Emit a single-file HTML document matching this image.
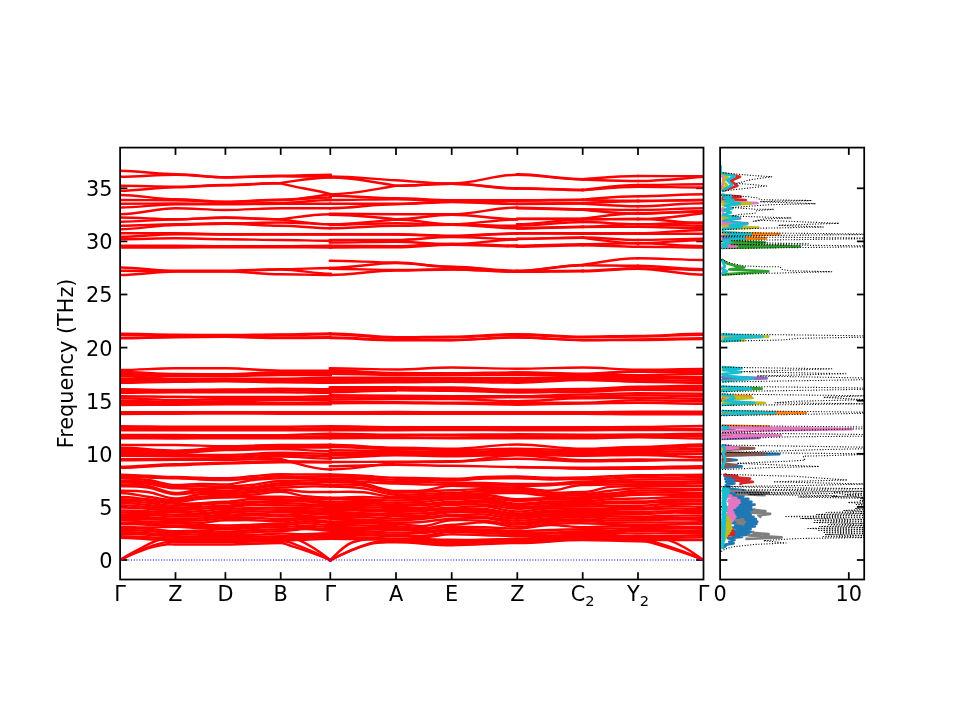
<!DOCTYPE html>
<html><head><meta charset="utf-8"><title>Phonon band structure and DOS</title>
<style>html,body{margin:0;padding:0;background:#fff}svg{display:block}</style></head>
<body>
<svg width="960" height="720" viewBox="0 0 960 720">
<rect width="960" height="720" fill="#fff"/>
<defs><clipPath id="c1"><rect x="120.1" y="147.6" width="583.4" height="431.9"/></clipPath><clipPath id="c2"><rect x="720.1" y="147.6" width="144.1" height="431.9"/></clipPath></defs>
<g stroke="#000" stroke-width="1.75" stroke-linecap="butt">
<line x1="175.5" x2="175.5" y1="579.5" y2="572.2"/>
<line x1="175.5" x2="175.5" y1="147.6" y2="154.9"/>
<line x1="225.4" x2="225.4" y1="579.5" y2="572.2"/>
<line x1="225.4" x2="225.4" y1="147.6" y2="154.9"/>
<line x1="280.7" x2="280.7" y1="579.5" y2="572.2"/>
<line x1="280.7" x2="280.7" y1="147.6" y2="154.9"/>
<line x1="330.3" x2="330.3" y1="579.5" y2="572.2"/>
<line x1="330.3" x2="330.3" y1="147.6" y2="154.9"/>
<line x1="396" x2="396" y1="579.5" y2="572.2"/>
<line x1="396" x2="396" y1="147.6" y2="154.9"/>
<line x1="451.7" x2="451.7" y1="579.5" y2="572.2"/>
<line x1="451.7" x2="451.7" y1="147.6" y2="154.9"/>
<line x1="517.3" x2="517.3" y1="579.5" y2="572.2"/>
<line x1="517.3" x2="517.3" y1="147.6" y2="154.9"/>
<line x1="582.7" x2="582.7" y1="579.5" y2="572.2"/>
<line x1="582.7" x2="582.7" y1="147.6" y2="154.9"/>
<line x1="638" x2="638" y1="579.5" y2="572.2"/>
<line x1="638" x2="638" y1="147.6" y2="154.9"/>
<line x1="120.1" x2="127.4" y1="560" y2="560"/>
<line x1="703.5" x2="696.2" y1="560" y2="560"/>
<line x1="720.1" x2="727.4" y1="560" y2="560"/>
<line x1="864.2" x2="856.9" y1="560" y2="560"/>
<line x1="120.1" x2="127.4" y1="506.9" y2="506.9"/>
<line x1="703.5" x2="696.2" y1="506.9" y2="506.9"/>
<line x1="720.1" x2="727.4" y1="506.9" y2="506.9"/>
<line x1="864.2" x2="856.9" y1="506.9" y2="506.9"/>
<line x1="120.1" x2="127.4" y1="453.8" y2="453.8"/>
<line x1="703.5" x2="696.2" y1="453.8" y2="453.8"/>
<line x1="720.1" x2="727.4" y1="453.8" y2="453.8"/>
<line x1="864.2" x2="856.9" y1="453.8" y2="453.8"/>
<line x1="120.1" x2="127.4" y1="400.7" y2="400.7"/>
<line x1="703.5" x2="696.2" y1="400.7" y2="400.7"/>
<line x1="720.1" x2="727.4" y1="400.7" y2="400.7"/>
<line x1="864.2" x2="856.9" y1="400.7" y2="400.7"/>
<line x1="120.1" x2="127.4" y1="347.6" y2="347.6"/>
<line x1="703.5" x2="696.2" y1="347.6" y2="347.6"/>
<line x1="720.1" x2="727.4" y1="347.6" y2="347.6"/>
<line x1="864.2" x2="856.9" y1="347.6" y2="347.6"/>
<line x1="120.1" x2="127.4" y1="294.5" y2="294.5"/>
<line x1="703.5" x2="696.2" y1="294.5" y2="294.5"/>
<line x1="720.1" x2="727.4" y1="294.5" y2="294.5"/>
<line x1="864.2" x2="856.9" y1="294.5" y2="294.5"/>
<line x1="120.1" x2="127.4" y1="241.4" y2="241.4"/>
<line x1="703.5" x2="696.2" y1="241.4" y2="241.4"/>
<line x1="720.1" x2="727.4" y1="241.4" y2="241.4"/>
<line x1="864.2" x2="856.9" y1="241.4" y2="241.4"/>
<line x1="120.1" x2="127.4" y1="188.3" y2="188.3"/>
<line x1="703.5" x2="696.2" y1="188.3" y2="188.3"/>
<line x1="720.1" x2="727.4" y1="188.3" y2="188.3"/>
<line x1="864.2" x2="856.9" y1="188.3" y2="188.3"/>
<line x1="848.8" x2="848.8" y1="579.5" y2="572.2"/>
<line x1="848.8" x2="848.8" y1="147.6" y2="154.9"/>
</g>
<g id="bands" clip-path="url(#c1)" fill="none" stroke="#ff0000" stroke-width="2.4" stroke-linecap="round">
<path d="M120.1 170.8C140.0 170.8 155.6 174.2 175.5 174.2C193.5 174.2 207.4 177.2 225.4 177.2C245.3 177.2 260.8 175.8 280.7 175.8C298.8 175.8 312.8 174.7 330.9 174.7"/>
<path d="M329.7 176.5C353.6 176.5 372.1 179.0 396.0 180.3C416.1 181.5 431.6 183.5 451.7 183.5C475.3 183.5 493.7 174.7 517.3 174.7"/>
<path d="M120.1 176.7C140.0 176.7 155.6 174.7 175.5 174.7C193.5 174.7 207.4 177.5 225.4 177.5C245.3 177.5 260.8 176.2 280.7 176.2C298.8 176.2 312.8 176.7 330.9 176.7"/>
<path d="M329.7 177.5C353.6 177.5 372.1 182.0 396.0 185.7C416.1 185.7 431.6 183.8 451.7 183.8C475.3 183.8 493.7 188.3 517.3 188.3"/>
<path d="M120.1 185.8C140.0 185.8 155.6 186.7 175.5 186.7C193.5 186.7 207.4 185.0 225.4 185.0C245.3 185.0 260.8 183.0 280.7 183.0C298.8 180.5 312.8 177.5 330.9 177.5"/>
<path d="M329.7 194.2C353.6 194.2 372.1 189.6 396.0 185.8C416.1 185.8 431.6 183.8 451.7 183.8C475.3 183.8 493.7 188.7 517.3 188.7"/>
<path d="M120.1 190.8C140.0 190.8 155.6 187.2 175.5 187.2C193.5 187.2 207.4 185.3 225.4 185.3C245.3 185.3 260.8 183.3 280.7 183.3C298.8 188.2 312.8 189.3 330.9 194.2"/>
<path d="M329.7 195.8C353.6 195.8 372.1 198.3 396.0 198.3C416.1 198.3 431.6 200.3 451.7 200.3C475.3 200.3 493.7 200.3 517.3 200.3"/>
<path d="M120.1 195.0C140.0 195.0 155.6 199.3 175.5 199.3C193.5 199.3 207.4 201.7 225.4 201.7C245.3 201.7 260.8 199.7 280.7 199.7C298.8 199.7 312.8 196.6 330.9 194.2"/>
<path d="M329.7 200.0C353.6 200.0 372.1 199.2 396.0 199.2C416.1 199.2 431.6 201.3 451.7 201.3C475.3 201.3 493.7 200.7 517.3 200.7"/>
<path d="M120.1 200.0C140.0 200.0 155.6 200.2 175.5 200.2C193.5 200.2 207.4 202.0 225.4 202.0C245.3 202.0 260.8 200.0 280.7 200.0C298.8 200.0 312.8 197.5 330.9 197.5"/>
<path d="M329.7 203.7C353.6 203.7 372.1 203.7 396.0 203.7C416.1 203.7 431.6 201.7 451.7 201.7C475.3 201.7 493.7 203.7 517.3 203.7"/>
<path d="M120.1 203.7C140.0 203.7 155.6 203.5 175.5 203.5C193.5 203.5 207.4 203.7 225.4 203.7C245.3 203.7 260.8 203.0 280.7 203.0C298.8 203.0 312.8 200.0 330.9 200.0"/>
<path d="M329.7 208.3C353.6 208.3 372.1 204.3 396.0 204.3C416.1 204.3 431.6 202.0 451.7 202.0C475.3 202.0 493.7 204.0 517.3 204.0"/>
<path d="M120.1 207.5C140.0 207.5 155.6 204.3 175.5 204.3C193.5 204.3 207.4 204.2 225.4 204.2C245.3 204.2 260.8 203.7 280.7 203.7C298.8 203.7 312.8 203.7 330.9 203.7"/>
<path d="M329.7 213.7C353.6 213.7 372.1 214.2 396.0 214.2C416.1 214.2 431.6 214.2 451.7 214.2C475.3 214.2 493.7 207.5 517.3 207.5"/>
<path d="M120.1 214.2C140.0 214.2 155.6 208.3 175.5 208.3C193.5 208.3 207.4 210.0 225.4 210.0C245.3 210.0 260.8 208.3 280.7 208.3C298.8 208.3 312.8 208.3 330.9 208.3"/>
<path d="M329.7 214.7C353.6 214.7 372.1 217.1 396.0 219.2C416.1 219.2 431.6 214.7 451.7 214.7C475.3 214.7 493.7 219.2 517.3 219.2"/>
<path d="M120.1 217.5C140.0 217.5 155.6 219.2 175.5 219.2C193.5 219.2 207.4 217.5 225.4 217.5C245.3 217.5 260.8 219.2 280.7 219.2C298.8 216.9 312.8 214.2 330.9 214.2"/>
<path d="M329.7 224.2C353.6 224.2 372.1 221.6 396.0 219.5C416.1 219.5 431.6 224.2 451.7 224.2C475.3 224.2 493.7 219.5 517.3 219.5"/>
<path d="M120.1 221.7C140.0 221.7 155.6 219.5 175.5 219.5C193.5 219.5 207.4 217.8 225.4 217.8C245.3 217.8 260.8 219.5 280.7 219.5C298.8 221.6 312.8 224.2 330.9 224.2"/>
<path d="M329.7 225.0C353.6 225.0 372.1 223.3 396.0 223.3C416.1 223.3 431.6 224.5 451.7 224.5C475.3 224.5 493.7 225.8 517.3 225.8"/>
<path d="M120.1 225.8C140.0 225.8 155.6 224.2 175.5 224.2C193.5 224.2 207.4 223.3 225.4 223.3C245.3 223.3 260.8 222.5 280.7 222.5C298.8 222.5 312.8 224.2 330.9 224.2"/>
<path d="M329.7 228.3C353.6 228.3 372.1 225.8 396.0 225.8C416.1 225.8 431.6 224.8 451.7 224.8C475.3 224.8 493.7 228.3 517.3 228.3"/>
<path d="M120.1 229.2C140.0 229.2 155.6 225.0 175.5 225.0C193.5 225.0 207.4 223.7 225.4 223.7C245.3 223.7 260.8 225.8 280.7 225.8C298.8 225.8 312.8 228.3 330.9 228.3"/>
<path d="M329.7 234.2C353.6 234.2 372.1 234.2 396.0 234.2C416.1 234.2 431.6 235.8 451.7 235.8C475.3 235.8 493.7 233.3 517.3 233.3"/>
<path d="M120.1 233.3C140.0 233.3 155.6 233.3 175.5 233.3C193.5 233.3 207.4 234.2 225.4 234.2C245.3 234.2 260.8 234.2 280.7 234.2C298.8 234.2 312.8 234.2 330.9 234.2"/>
<path d="M329.7 234.5C353.6 234.5 372.1 234.5 396.0 234.5C416.1 234.5 431.6 236.2 451.7 236.2C475.3 236.2 493.7 233.7 517.3 233.7"/>
<path d="M120.1 236.7C140.0 236.7 155.6 234.2 175.5 234.2C193.5 234.2 207.4 234.5 225.4 234.5C245.3 234.5 260.8 234.5 280.7 234.5C298.8 234.5 312.8 234.5 330.9 234.5"/>
<path d="M329.7 240.0C353.6 240.0 372.1 240.0 396.0 240.0C416.1 240.0 431.6 237.0 451.7 237.0C475.3 237.0 493.7 239.2 517.3 239.2"/>
<path d="M120.1 239.2C140.0 239.2 155.6 238.3 175.5 238.3C193.5 238.3 207.4 239.2 225.4 239.2C245.3 239.2 260.8 240.0 280.7 240.0C298.8 240.0 312.8 240.8 330.9 240.8"/>
<path d="M329.7 242.5C353.6 242.5 372.1 241.7 396.0 241.7C416.1 241.7 431.6 244.2 451.7 244.2C475.3 244.2 493.7 239.5 517.3 239.5"/>
<path d="M120.1 245.8C140.0 245.8 155.6 245.8 175.5 245.8C193.5 245.8 207.4 246.3 225.4 246.3C245.3 246.3 260.8 246.3 280.7 246.3C298.8 246.3 312.8 245.8 330.9 245.8"/>
<path d="M329.7 245.8C353.6 245.8 372.1 246.3 396.0 246.3C416.1 246.3 431.6 243.8 451.7 243.8C475.3 243.8 493.7 245.5 517.3 245.5"/>
<path d="M120.1 247.5C140.0 247.5 155.6 247.5 175.5 247.5C193.5 247.5 207.4 247.3 225.4 247.3C245.3 247.3 260.8 247.3 280.7 247.3C298.8 247.3 312.8 247.5 330.9 247.5"/>
<path d="M329.7 247.5C353.6 247.5 372.1 247.3 396.0 247.3C416.1 247.3 431.6 244.8 451.7 244.8C475.3 244.8 493.7 246.5 517.3 246.5"/>
<path d="M120.1 267.5C140.0 267.5 155.6 270.8 175.5 270.8C193.5 270.8 207.4 270.8 225.4 270.8C245.3 270.8 260.8 269.2 280.7 269.2C298.8 269.2 312.8 268.0 330.9 268.0"/>
<path d="M329.7 260.8C353.6 260.8 372.1 262.5 396.0 262.5C416.1 262.5 431.6 266.7 451.7 266.7C475.3 266.7 493.7 270.8 517.3 270.8"/>
<path d="M120.1 270.8C140.0 270.8 155.6 271.2 175.5 271.2C193.5 271.2 207.4 271.2 225.4 271.2C245.3 271.2 260.8 269.5 280.7 269.5C298.8 269.5 312.8 273.7 330.9 273.7"/>
<path d="M329.7 268.0C353.6 268.0 372.1 263.0 396.0 263.0C416.1 263.0 431.6 267.0 451.7 267.0C475.3 267.0 493.7 271.2 517.3 271.2"/>
<path d="M120.1 275.0C140.0 275.0 155.6 271.5 175.5 271.5C193.5 271.5 207.4 271.5 225.4 271.5C245.3 271.5 260.8 274.2 280.7 274.2C298.8 274.2 312.8 275.0 330.9 275.0"/>
<path d="M329.7 268.7C353.6 268.7 372.1 270.0 396.0 270.0C416.1 270.0 431.6 269.2 451.7 269.2C475.3 269.2 493.7 271.5 517.3 271.5"/>
<path d="M329.7 275.0C353.6 275.0 372.1 270.5 396.0 270.5C416.1 270.5 431.6 269.5 451.7 269.5C475.3 269.5 493.7 271.8 517.3 271.8"/>
<path d="M120.1 333.8C140.0 333.8 155.6 334.7 175.5 334.7C193.5 334.7 207.4 335.0 225.4 335.0C245.3 335.0 260.8 334.4 280.7 334.4C298.8 334.4 312.8 333.4 330.9 333.4"/>
<path d="M329.7 333.4C353.6 333.4 372.1 337.2 396.0 337.2C416.1 337.2 431.6 336.6 451.7 336.6C475.3 336.6 493.7 334.1 517.3 334.1C540.8 334.1 559.2 336.6 582.7 336.6C602.6 336.6 618.1 335.9 638.0 335.9C661.6 335.9 679.9 333.8 703.5 333.8"/>
<path d="M120.1 334.7C140.0 334.7 155.6 335.3 175.5 335.3C193.5 335.3 207.4 335.6 225.4 335.6C245.3 335.6 260.8 335.0 280.7 335.0C298.8 335.0 312.8 334.4 330.9 334.4"/>
<path d="M329.7 334.4C353.6 334.4 372.1 337.8 396.0 337.8C416.1 337.8 431.6 337.2 451.7 337.2C475.3 337.2 493.7 334.7 517.3 334.7C540.8 334.7 559.2 337.2 582.7 337.2C602.6 337.2 618.1 336.6 638.0 336.6C661.6 336.6 679.9 334.7 703.5 334.7"/>
<path d="M120.1 337.8C140.0 337.8 155.6 336.9 175.5 336.9C193.5 336.9 207.4 336.6 225.4 336.6C245.3 336.6 260.8 337.5 280.7 337.5C298.8 337.5 312.8 337.2 330.9 337.2"/>
<path d="M329.7 337.5C353.6 337.5 372.1 339.7 396.0 339.7C416.1 339.7 431.6 340.0 451.7 340.0C475.3 340.0 493.7 337.2 517.3 337.2C540.8 337.2 559.2 340.0 582.7 340.0C602.6 340.0 618.1 339.4 638.0 339.4C661.6 339.4 679.9 338.1 703.5 338.1"/>
<path d="M120.1 338.4C140.0 338.4 155.6 337.2 175.5 337.2C193.5 337.2 207.4 336.9 225.4 336.9C245.3 336.9 260.8 338.1 280.7 338.1C298.8 338.1 312.8 337.8 330.9 337.8"/>
<path d="M329.7 338.1C353.6 338.1 372.1 340.3 396.0 340.3C416.1 340.3 431.6 340.3 451.7 340.3C475.3 340.3 493.7 337.5 517.3 337.5C540.8 337.5 559.2 340.3 582.7 340.3C602.6 340.3 618.1 340.0 638.0 340.0C661.6 340.0 679.9 339.1 703.5 339.1"/>
<path d="M120.1 370.0C140.0 370.0 155.6 368.3 175.5 368.3C193.5 368.3 207.4 368.3 225.4 368.3C245.3 368.3 260.8 370.7 280.7 370.7C298.8 370.7 312.8 370.7 330.9 370.7"/>
<path d="M329.7 368.3C353.6 368.3 372.1 369.5 396.0 369.5C416.1 369.5 431.6 367.5 451.7 367.5C475.3 367.5 493.7 368.7 517.3 368.7C540.8 368.7 559.2 367.5 582.7 367.5C602.6 367.5 618.1 369.7 638.0 369.7C661.6 369.7 679.9 369.0 703.5 369.0"/>
<path d="M120.1 372.0C140.0 372.0 155.6 374.0 175.5 374.0C193.5 374.0 207.4 374.3 225.4 374.3C245.3 374.3 260.8 372.3 280.7 372.3C298.8 372.3 312.8 372.0 330.9 372.0"/>
<path d="M329.7 370.3C353.6 370.3 372.1 373.0 396.0 373.0C416.1 373.0 431.6 373.3 451.7 373.3C475.3 373.3 493.7 372.3 517.3 372.3C540.8 372.3 559.2 373.7 582.7 373.7C602.6 373.7 618.1 371.2 638.0 371.2C661.6 371.2 679.9 370.7 703.5 370.7"/>
<path d="M120.1 374.0C140.0 374.0 155.6 375.3 175.5 375.3C193.5 375.3 207.4 375.7 225.4 375.7C245.3 375.7 260.8 374.0 280.7 374.0C298.8 374.0 312.8 373.7 330.9 373.7"/>
<path d="M329.7 372.0C353.6 372.0 372.1 374.0 396.0 374.0C416.1 374.0 431.6 374.0 451.7 374.0C475.3 374.0 493.7 373.7 517.3 373.7C540.8 373.7 559.2 374.3 582.7 374.3C602.6 374.3 618.1 371.7 638.0 371.7C661.6 371.7 679.9 372.0 703.5 372.0"/>
<path d="M120.1 376.2C140.0 376.2 155.6 378.7 175.5 378.7C193.5 378.7 207.4 378.7 225.4 378.7C245.3 378.7 260.8 378.7 280.7 378.7C298.8 378.7 312.8 377.8 330.9 377.8"/>
<path d="M329.7 373.7C353.6 373.7 372.1 375.0 396.0 375.0C416.1 375.0 431.6 374.8 451.7 374.8C475.3 374.8 493.7 375.0 517.3 375.0C540.8 375.0 559.2 375.3 582.7 375.3C602.6 375.3 618.1 375.3 638.0 375.3C661.6 375.3 679.9 373.7 703.5 373.7"/>
<path d="M120.1 378.7C140.0 378.7 155.6 379.5 175.5 379.5C193.5 379.5 207.4 379.2 225.4 379.2C245.3 379.2 260.8 380.0 280.7 380.0C298.8 380.0 312.8 379.5 330.9 379.5"/>
<path d="M329.7 377.8C353.6 377.8 372.1 377.8 396.0 377.8C416.1 377.8 431.6 377.8 451.7 377.8C475.3 377.8 493.7 378.3 517.3 378.3C540.8 378.3 559.2 376.7 582.7 376.7C602.6 376.7 618.1 376.7 638.0 376.7C661.6 376.7 679.9 377.0 703.5 377.0"/>
<path d="M120.1 380.7C140.0 380.7 155.6 380.7 175.5 380.7C193.5 380.7 207.4 380.3 225.4 380.3C245.3 380.3 260.8 381.2 280.7 381.2C298.8 381.2 312.8 381.2 330.9 381.2"/>
<path d="M329.7 379.5C353.6 379.5 372.1 379.5 396.0 379.5C416.1 379.5 431.6 379.0 451.7 379.0C475.3 379.0 493.7 380.0 517.3 380.0C540.8 380.0 559.2 377.8 582.7 377.8C602.6 377.8 618.1 377.8 638.0 377.8C661.6 377.8 679.9 378.7 703.5 378.7"/>
<path d="M120.1 382.8C140.0 382.8 155.6 381.7 175.5 381.7C193.5 381.7 207.4 381.2 225.4 381.2C245.3 381.2 260.8 382.3 280.7 382.3C298.8 382.3 312.8 382.8 330.9 382.8"/>
<path d="M329.7 381.2C353.6 381.2 372.1 380.8 396.0 380.8C416.1 380.8 431.6 380.3 451.7 380.3C475.3 380.3 493.7 381.3 517.3 381.3C540.8 381.3 559.2 379.0 582.7 379.0C602.6 379.0 618.1 380.0 638.0 380.0C661.6 380.0 679.9 380.7 703.5 380.7"/>
<path d="M120.1 375.3C140.0 375.3 155.6 376.0 175.5 376.0C193.5 376.0 207.4 376.3 225.4 376.3C245.3 376.3 260.8 375.0 280.7 375.0C298.8 375.0 312.8 375.3 330.9 375.3"/>
<path d="M329.7 382.8C353.6 382.8 372.1 382.3 396.0 382.3C416.1 382.3 431.6 381.7 451.7 381.7C475.3 381.7 493.7 382.7 517.3 382.7C540.8 382.7 559.2 380.0 582.7 380.0C602.6 380.0 618.1 381.7 638.0 381.7C661.6 381.7 679.9 382.8 703.5 382.8"/>
<path d="M120.1 389.2C140.0 389.2 155.6 390.0 175.5 390.0C193.5 390.0 207.4 389.5 225.4 389.5C245.3 389.5 260.8 388.7 280.7 388.7C298.8 388.7 312.8 389.2 330.9 389.2"/>
<path d="M329.7 387.3C353.6 387.3 372.1 387.2 396.0 387.2C416.1 387.2 431.6 387.5 451.7 387.5C475.3 387.5 493.7 389.8 517.3 389.8C540.8 389.8 559.2 389.0 582.7 389.0C602.6 389.0 618.1 386.7 638.0 386.7C661.6 386.7 679.9 385.8 703.5 385.8"/>
<path d="M120.1 390.8C140.0 390.8 155.6 391.2 175.5 391.2C193.5 391.2 207.4 390.8 225.4 390.8C245.3 390.8 260.8 390.3 280.7 390.3C298.8 390.3 312.8 391.0 330.9 391.0"/>
<path d="M329.7 388.8C353.6 388.8 372.1 388.7 396.0 388.7C416.1 388.7 431.6 389.2 451.7 389.2C475.3 389.2 493.7 391.2 517.3 391.2C540.8 391.2 559.2 390.3 582.7 390.3C602.6 390.3 618.1 388.2 638.0 388.2C661.6 388.2 679.9 387.8 703.5 387.8"/>
<path d="M120.1 392.7C140.0 392.7 155.6 392.2 175.5 392.2C193.5 392.2 207.4 392.2 225.4 392.2C245.3 392.2 260.8 392.3 280.7 392.3C298.8 392.3 312.8 392.8 330.9 392.8"/>
<path d="M329.7 390.3C353.6 390.3 372.1 390.2 396.0 390.2C416.1 390.2 431.6 390.7 451.7 390.7C475.3 390.7 493.7 392.5 517.3 392.5C540.8 392.5 559.2 391.7 582.7 391.7C602.6 391.7 618.1 389.8 638.0 389.8C661.6 389.8 679.9 390.3 703.5 390.3"/>
<path d="M120.1 396.2C140.0 396.2 155.6 396.7 175.5 396.7C193.5 396.7 207.4 397.0 225.4 397.0C245.3 397.0 260.8 397.0 280.7 397.0C298.8 397.0 312.8 396.2 330.9 396.2"/>
<path d="M329.7 395.3C353.6 395.3 372.1 395.8 396.0 395.8C416.1 395.8 431.6 396.2 451.7 396.2C475.3 396.2 493.7 396.2 517.3 396.2C540.8 396.2 559.2 394.5 582.7 394.5C602.6 394.5 618.1 393.3 638.0 393.3C661.6 393.3 679.9 393.7 703.5 393.7"/>
<path d="M120.1 398.3C140.0 398.3 155.6 400.0 175.5 400.0C193.5 400.0 207.4 399.0 225.4 399.0C245.3 399.0 260.8 398.7 280.7 398.7C298.8 398.7 312.8 398.3 330.9 398.3"/>
<path d="M329.7 397.3C353.6 397.3 372.1 397.5 396.0 397.5C416.1 397.5 431.6 397.7 451.7 397.7C475.3 397.7 493.7 397.3 517.3 397.3C540.8 397.3 559.2 396.7 582.7 396.7C602.6 396.7 618.1 395.3 638.0 395.3C661.6 395.3 679.9 396.2 703.5 396.2"/>
<path d="M120.1 400.7C140.0 400.7 155.6 401.7 175.5 401.7C193.5 401.7 207.4 401.3 225.4 401.3C245.3 401.3 260.8 400.3 280.7 400.3C298.8 400.3 312.8 400.3 330.9 400.3"/>
<path d="M329.7 399.5C353.6 399.5 372.1 399.0 396.0 399.0C416.1 399.0 431.6 399.0 451.7 399.0C475.3 399.0 493.7 401.2 517.3 401.2C540.8 401.2 559.2 398.3 582.7 398.3C602.6 398.3 618.1 397.8 638.0 397.8C661.6 397.8 679.9 398.7 703.5 398.7"/>
<path d="M120.1 402.8C140.0 402.8 155.6 403.3 175.5 403.3C193.5 403.3 207.4 403.0 225.4 403.0C245.3 403.0 260.8 403.3 280.7 403.3C298.8 403.3 312.8 402.5 330.9 402.5"/>
<path d="M329.7 401.7C353.6 401.7 372.1 402.2 396.0 402.2C416.1 402.2 431.6 402.7 451.7 402.7C475.3 402.7 493.7 402.8 517.3 402.8C540.8 402.8 559.2 402.7 582.7 402.7C602.6 402.7 618.1 400.3 638.0 400.3C661.6 400.3 679.9 401.2 703.5 401.2"/>
<path d="M120.1 405.0C140.0 405.0 155.6 404.7 175.5 404.7C193.5 404.7 207.4 404.3 225.4 404.3C245.3 404.3 260.8 404.3 280.7 404.3C298.8 404.3 312.8 404.3 330.9 404.3"/>
<path d="M329.7 403.2C353.6 403.2 372.1 403.0 396.0 403.0C416.1 403.0 431.6 403.5 451.7 403.5C475.3 403.5 493.7 404.7 517.3 404.7C540.8 404.7 559.2 403.5 582.7 403.5C602.6 403.5 618.1 402.8 638.0 402.8C661.6 402.8 679.9 403.7 703.5 403.7"/>
<path d="M120.1 412.2C140.0 412.2 155.6 412.3 175.5 412.3C193.5 412.3 207.4 412.3 225.4 412.3C245.3 412.3 260.8 412.3 280.7 412.3C298.8 412.3 312.8 412.2 330.9 412.2"/>
<path d="M329.7 412.2C353.6 412.2 372.1 412.0 396.0 412.0C416.1 412.0 431.6 412.3 451.7 412.3C475.3 412.3 493.7 412.3 517.3 412.3C540.8 412.3 559.2 412.3 582.7 412.3C602.6 412.3 618.1 411.7 638.0 411.7C661.6 411.7 679.9 411.7 703.5 411.7"/>
<path d="M120.1 414.0C140.0 414.0 155.6 413.7 175.5 413.7C193.5 413.7 207.4 413.5 225.4 413.5C245.3 413.5 260.8 413.7 280.7 413.7C298.8 413.7 312.8 413.8 330.9 413.8"/>
<path d="M329.7 413.8C353.6 413.8 372.1 413.8 396.0 413.8C416.1 413.8 431.6 413.8 451.7 413.8C475.3 413.8 493.7 413.7 517.3 413.7C540.8 413.7 559.2 413.7 582.7 413.7C602.6 413.7 618.1 414.2 638.0 414.2C661.6 414.2 679.9 414.3 703.5 414.3"/>
<path d="M120.1 426.3C140.0 426.3 155.6 426.8 175.5 426.8C193.5 426.8 207.4 426.8 225.4 426.8C245.3 426.8 260.8 426.8 280.7 426.8C298.8 426.8 312.8 426.3 330.9 426.3"/>
<path d="M329.7 426.3C353.6 426.3 372.1 427.2 396.0 427.2C416.1 427.2 431.6 427.2 451.7 427.2C475.3 427.2 493.7 427.2 517.3 427.2C540.8 427.2 559.2 427.2 582.7 427.2C602.6 427.2 618.1 427.0 638.0 427.0C661.6 427.0 679.9 426.0 703.5 426.0"/>
<path d="M120.1 428.3C140.0 428.3 155.6 428.7 175.5 428.7C193.5 428.7 207.4 428.7 225.4 428.7C245.3 428.7 260.8 429.2 280.7 429.2C298.8 429.2 312.8 428.3 330.9 428.3"/>
<path d="M329.7 428.3C353.6 428.3 372.1 428.7 396.0 428.7C416.1 428.7 431.6 428.7 451.7 428.7C475.3 428.7 493.7 428.7 517.3 428.7C540.8 428.7 559.2 428.7 582.7 428.7C602.6 428.7 618.1 428.7 638.0 428.7C661.6 428.7 679.9 429.0 703.5 429.0"/>
<path d="M120.1 430.3C140.0 430.3 155.6 430.3 175.5 430.3C193.5 430.3 207.4 430.3 225.4 430.3C245.3 430.3 260.8 430.3 280.7 430.3C298.8 430.3 312.8 430.3 330.9 430.3"/>
<path d="M329.7 430.3C353.6 430.3 372.1 430.3 396.0 430.3C416.1 430.3 431.6 430.0 451.7 430.0C475.3 430.0 493.7 430.3 517.3 430.3C540.8 430.3 559.2 430.3 582.7 430.3C602.6 430.3 618.1 430.0 638.0 430.0C661.6 430.0 679.9 430.3 703.5 430.3"/>
<path d="M120.1 435.0C140.0 435.0 155.6 435.0 175.5 435.0C193.5 435.0 207.4 435.3 225.4 435.3C245.3 435.3 260.8 435.3 280.7 435.3C298.8 435.3 312.8 433.7 330.9 433.7"/>
<path d="M329.7 433.7C353.6 433.7 372.1 434.8 396.0 434.8C416.1 434.8 431.6 434.7 451.7 434.7C475.3 434.7 493.7 434.3 517.3 434.3C540.8 434.3 559.2 434.7 582.7 434.7C602.6 434.7 618.1 434.5 638.0 434.5C661.6 434.5 679.9 433.8 703.5 433.8"/>
<path d="M120.1 436.7C140.0 436.7 155.6 437.0 175.5 437.0C193.5 437.0 207.4 437.0 225.4 437.0C245.3 437.0 260.8 437.0 280.7 437.0C298.8 437.0 312.8 436.2 330.9 436.2"/>
<path d="M329.7 436.2C353.6 436.2 372.1 435.8 396.0 435.8C416.1 435.8 431.6 435.5 451.7 435.5C475.3 435.5 493.7 436.3 517.3 436.3C540.8 436.3 559.2 436.5 582.7 436.5C602.6 436.5 618.1 435.8 638.0 435.8C661.6 435.8 679.9 436.2 703.5 436.2"/>
<path d="M120.1 438.2C140.0 438.2 155.6 438.5 175.5 438.5C193.5 438.5 207.4 438.2 225.4 438.2C245.3 438.2 260.8 438.2 280.7 438.2C298.8 438.2 312.8 438.2 330.9 438.2"/>
<path d="M329.7 438.2C353.6 438.2 372.1 438.0 396.0 438.0C416.1 438.0 431.6 438.2 451.7 438.2C475.3 438.2 493.7 438.2 517.3 438.2C540.8 438.2 559.2 438.2 582.7 438.2C602.6 438.2 618.1 437.2 638.0 437.2C661.6 437.2 679.9 438.5 703.5 438.5"/>
<path d="M120.1 445.0C140.0 445.0 155.6 445.0 175.5 445.0C193.5 445.0 207.4 446.2 225.4 446.2C245.3 446.2 260.8 445.0 280.7 445.0C298.8 445.0 312.8 444.8 330.9 444.8"/>
<path d="M329.7 444.8C353.6 444.8 372.1 447.8 396.0 447.8C416.1 447.8 431.6 448.7 451.7 448.7C475.3 448.7 493.7 444.5 517.3 444.5C540.8 444.5 559.2 448.7 582.7 448.7C602.6 448.7 618.1 447.0 638.0 447.0C661.6 447.0 679.9 444.5 703.5 444.5"/>
<path d="M120.1 447.8C140.0 447.8 155.6 450.7 175.5 450.7C193.5 450.7 207.4 447.8 225.4 447.8C245.3 447.8 260.8 446.3 280.7 446.3C298.8 446.3 312.8 446.2 330.9 446.2"/>
<path d="M329.7 447.0C353.6 447.0 372.1 449.0 396.0 449.0C416.1 449.0 431.6 450.3 451.7 450.3C475.3 450.3 493.7 448.7 517.3 448.7C540.8 448.7 559.2 450.3 582.7 450.3C602.6 450.3 618.1 448.7 638.0 448.7C661.6 448.7 679.9 446.2 703.5 446.2"/>
<path d="M120.1 449.8C140.0 449.8 155.6 452.0 175.5 452.0C193.5 452.0 207.4 449.0 225.4 449.0C245.3 449.0 260.8 447.7 280.7 447.7C298.8 447.7 312.8 447.5 330.9 447.5"/>
<path d="M329.7 450.3C353.6 450.3 372.1 451.2 396.0 451.2C416.1 451.2 431.6 452.0 451.7 452.0C475.3 452.0 493.7 450.7 517.3 450.7C540.8 450.7 559.2 452.0 582.7 452.0C602.6 452.0 618.1 450.3 638.0 450.3C661.6 450.3 679.9 448.7 703.5 448.7"/>
<path d="M120.1 451.8C140.0 451.8 155.6 453.3 175.5 453.3C193.5 453.3 207.4 450.0 225.4 450.0C245.3 450.0 260.8 449.0 280.7 449.0C298.8 449.0 312.8 451.2 330.9 451.2"/>
<path d="M329.7 452.8C353.6 452.8 372.1 452.8 396.0 452.8C416.1 452.8 431.6 453.7 451.7 453.7C475.3 453.7 493.7 452.3 517.3 452.3C540.8 452.3 559.2 453.7 582.7 453.7C602.6 453.7 618.1 452.0 638.0 452.0C661.6 452.0 679.9 451.2 703.5 451.2"/>
<path d="M120.1 453.8C140.0 453.8 155.6 454.7 175.5 454.7C193.5 454.7 207.4 455.0 225.4 455.0C245.3 455.0 260.8 452.8 280.7 452.8C298.8 452.8 312.8 453.7 330.9 453.7"/>
<path d="M329.7 455.3C353.6 455.3 372.1 454.2 396.0 454.2C416.1 454.2 431.6 455.0 451.7 455.0C475.3 455.0 493.7 453.7 517.3 453.7C540.8 453.7 559.2 455.0 582.7 455.0C602.6 455.0 618.1 453.7 638.0 453.7C661.6 453.7 679.9 453.7 703.5 453.7"/>
<path d="M120.1 455.8C140.0 455.8 155.6 456.2 175.5 456.2C193.5 456.2 207.4 456.7 225.4 456.7C245.3 456.7 260.8 454.7 280.7 454.7C298.8 454.7 312.8 456.2 330.9 456.2"/>
<path d="M329.7 457.8C353.6 457.8 372.1 455.3 396.0 455.3C416.1 455.3 431.6 456.2 451.7 456.2C475.3 456.2 493.7 454.7 517.3 454.7C540.8 454.7 559.2 455.7 582.7 455.7C602.6 455.7 618.1 455.0 638.0 455.0C661.6 455.0 679.9 457.0 703.5 457.0"/>
<path d="M120.1 460.3C140.0 460.3 155.6 459.8 175.5 459.8C193.5 459.8 207.4 459.8 225.4 459.8C245.3 459.8 260.8 459.0 280.7 459.0C298.8 463.7 312.8 469.5 330.9 469.5"/>
<path d="M329.7 469.5C353.6 469.5 372.1 465.6 396.0 462.5C416.1 462.5 431.6 461.7 451.7 461.7C475.3 461.7 493.7 455.3 517.3 455.3C540.8 455.3 559.2 460.3 582.7 460.3C602.6 460.3 618.1 459.5 638.0 459.5C661.6 459.5 679.9 460.3 703.5 460.3"/>
<path d="M120.1 466.7C140.0 466.7 155.6 464.2 175.5 464.2C193.5 464.2 207.4 462.7 225.4 462.7C245.3 462.7 260.8 461.3 280.7 461.3C298.8 461.3 312.8 461.8 330.9 461.8"/>
<path d="M329.7 462.0C353.6 462.0 372.1 461.7 396.0 461.7C416.1 461.7 431.6 461.2 451.7 461.2C475.3 461.2 493.7 458.7 517.3 458.7C540.8 458.7 559.2 461.3 582.7 461.3C602.6 461.3 618.1 460.7 638.0 460.7C661.6 460.7 679.9 459.5 703.5 459.5"/>
<path d="M120.1 467.8C140.0 467.8 155.6 465.2 175.5 465.2C193.5 465.2 207.4 463.5 225.4 463.5C245.3 463.5 260.8 462.3 280.7 462.3C298.8 462.3 312.8 462.5 330.9 462.5"/>
<path d="M120.1 459.2C140.0 459.2 155.6 459.0 175.5 459.0C193.5 459.0 207.4 458.8 225.4 458.8C245.3 458.8 260.8 456.5 280.7 456.5C298.8 456.5 312.8 458.7 330.9 458.7"/>
<path d="M329.7 466.2C353.6 466.2 372.1 464.7 396.0 464.7C416.1 464.7 431.6 465.8 451.7 465.8C475.3 465.8 493.7 467.0 517.3 467.0C540.8 467.0 559.2 468.7 582.7 468.7C602.6 468.7 618.1 468.7 638.0 468.7C661.6 468.7 679.9 468.0 703.5 468.0"/>
<path d="M517.3 467.3C540.8 467.3 559.2 467.8 582.7 467.8C602.6 467.8 618.1 467.3 638.0 467.3C661.6 467.3 679.9 466.3 703.5 466.3"/>
<path d="M329.7 392.3C353.6 392.3 372.1 390.5 396.0 390.5"/>
<path d="M120.1 474.8C130.1 474.8 137.8 475.4 147.8 475.8C157.8 476.2 165.5 477.0 175.5 477.0C184.5 477.0 191.5 477.6 200.4 477.8C209.4 478.0 216.4 478.2 225.4 478.2C235.4 478.2 243.1 476.9 253.1 476.2C263.0 475.4 270.7 474.2 280.7 474.2C289.6 474.2 296.6 474.4 305.5 474.5C314.6 474.6 321.8 474.5 330.9 474.5"/>
<path d="M329.7 474.5C341.7 474.5 351.1 475.3 363.1 475.8C375.0 476.4 384.2 477.7 396.0 477.7C406.0 477.7 413.8 478.0 423.9 478.2C433.9 478.3 441.7 478.7 451.7 478.7C463.5 478.7 472.7 477.4 484.5 477.0C496.3 476.6 505.5 476.5 517.3 476.5C529.1 476.5 538.2 477.7 550.0 477.8C561.8 478.0 570.9 477.5 582.7 477.5C592.7 477.5 600.4 476.6 610.4 476.2C620.3 475.8 628.0 475.3 638.0 475.3C649.8 475.3 659.0 475.1 670.8 475.0C682.5 474.9 691.7 474.8 703.5 474.8"/>
<path d="M120.1 476.5C130.1 476.5 137.8 477.2 147.8 477.5C157.8 477.8 165.5 478.3 175.5 478.3C184.5 478.3 191.5 479.2 200.4 479.5C209.4 479.8 216.4 480.0 225.4 480.0C235.4 480.0 243.1 478.9 253.1 478.2C263.0 477.5 270.7 476.2 280.7 476.2C289.6 476.2 296.6 476.8 305.5 476.8C314.6 476.9 321.8 476.3 330.9 476.3"/>
<path d="M329.7 476.3C341.7 476.3 351.1 477.2 363.1 477.8C375.0 478.4 384.2 479.7 396.0 479.7C406.0 479.7 413.8 479.9 423.9 480.0C433.9 480.1 441.7 480.5 451.7 480.5C463.5 480.5 472.7 478.9 484.5 478.5C496.3 478.1 505.5 478.3 517.3 478.3C529.1 478.3 538.2 479.4 550.0 479.5C561.8 479.6 570.9 478.8 582.7 478.8C592.7 478.8 600.4 478.8 610.4 478.5C620.3 478.2 628.0 477.0 638.0 477.0C649.8 477.0 659.0 477.5 670.8 477.5C682.5 477.5 691.7 477.0 703.5 477.0"/>
<path d="M120.1 478.3C130.1 478.3 137.8 478.8 147.8 480.0C157.8 481.2 165.5 485.0 175.5 485.0C184.5 485.0 191.5 484.1 200.4 484.0C209.4 483.9 216.4 484.5 225.4 484.5C235.4 484.5 243.1 481.1 253.1 480.0C263.0 478.9 270.7 478.2 280.7 478.2C289.6 478.2 296.6 478.3 305.5 478.3C314.6 478.4 321.8 478.5 330.9 478.5"/>
<path d="M329.7 478.5C341.7 478.5 351.1 478.8 363.1 479.3C375.0 479.9 384.2 481.7 396.0 481.7C406.0 481.7 413.8 481.8 423.9 482.0C433.9 482.2 441.7 482.8 451.7 482.8C463.5 482.8 472.7 482.8 484.5 483.0C496.3 483.2 505.5 484.0 517.3 484.0C529.1 484.0 538.2 484.3 550.0 483.8C561.8 483.4 570.9 481.5 582.7 481.5C592.7 481.5 600.4 481.0 610.4 480.7C620.3 480.3 628.0 479.5 638.0 479.5C649.8 479.5 659.0 479.5 670.8 479.5C682.5 479.5 691.7 479.3 703.5 479.3"/>
<path d="M120.1 480.8C130.1 480.8 137.8 480.9 147.8 482.0C157.8 483.1 165.5 486.8 175.5 486.8C184.5 486.8 191.5 486.2 200.4 486.2C209.4 486.1 216.4 486.5 225.4 486.5C235.4 486.5 243.1 485.8 253.1 484.8C263.0 483.8 270.7 481.0 280.7 481.0C289.6 481.0 296.6 480.7 305.5 480.5C314.6 480.3 321.8 480.0 330.9 480.0"/>
<path d="M329.7 480.0C341.7 480.0 351.1 481.2 363.1 481.8C375.0 482.5 384.2 483.5 396.0 483.5C406.0 483.5 413.8 484.3 423.9 484.5C433.9 484.7 441.7 484.5 451.7 484.5C463.5 484.5 472.7 484.6 484.5 484.8C496.3 485.1 505.5 485.8 517.3 485.8C529.1 485.8 538.2 485.6 550.0 485.2C561.8 484.7 570.9 483.3 582.7 483.3C592.7 483.3 600.4 482.7 610.4 482.5C620.3 482.3 628.0 482.0 638.0 482.0C649.8 482.0 659.0 482.3 670.8 482.2C682.5 482.0 691.7 481.3 703.5 481.3"/>
<path d="M120.1 482.2C130.1 482.2 137.8 482.7 147.8 483.8C157.8 484.9 165.5 488.3 175.5 488.3C184.5 488.3 191.5 488.8 200.4 488.7C209.4 488.5 216.4 487.7 225.4 487.7C235.4 487.7 243.1 487.9 253.1 487.2C263.0 486.4 270.7 483.3 280.7 483.3C289.6 483.3 296.6 482.9 305.5 482.7C314.6 482.4 321.8 482.0 330.9 482.0"/>
<path d="M329.7 482.0C341.7 482.0 351.1 482.0 363.1 483.7C375.0 485.3 384.2 491.0 396.0 491.0C406.0 491.0 413.8 491.4 423.9 490.5C433.9 489.6 441.7 485.8 451.7 485.8C463.5 485.8 472.7 486.7 484.5 487.0C496.3 487.3 505.5 487.7 517.3 487.7C529.1 487.7 538.2 491.1 550.0 490.7C561.8 490.2 570.9 485.0 582.7 485.0C592.7 485.0 600.4 484.6 610.4 484.5C620.3 484.4 628.0 484.2 638.0 484.2C649.8 484.2 659.0 484.3 670.8 484.2C682.5 484.0 691.7 483.3 703.5 483.3"/>
<path d="M120.1 484.5C130.1 484.5 137.8 484.5 147.8 486.0C157.8 487.5 165.5 493.0 175.5 493.0C184.5 493.0 191.5 490.3 200.4 489.8C209.4 489.4 216.4 490.5 225.4 490.5C235.4 490.5 243.1 489.6 253.1 488.7C263.0 487.7 270.7 485.3 280.7 485.3C289.6 485.3 296.6 483.9 305.5 483.8C314.6 483.7 321.8 484.8 330.9 484.8"/>
<path d="M329.7 484.8C341.7 484.8 351.1 484.0 363.1 485.5C375.0 486.9 384.2 492.8 396.0 492.8C406.0 492.8 413.8 492.1 423.9 491.7C433.9 491.2 441.7 490.2 451.7 490.2C463.5 490.2 472.7 489.1 484.5 489.0C496.3 488.9 505.5 489.5 517.3 489.5C529.1 489.5 538.2 492.2 550.0 492.7C561.8 493.1 570.9 492.0 582.7 492.0C592.7 492.0 600.4 487.9 610.4 486.8C620.3 485.8 628.0 486.3 638.0 486.3C649.8 486.3 659.0 486.1 670.8 486.0C682.5 485.9 691.7 485.7 703.5 485.7"/>
<path d="M120.1 486.3C130.1 486.3 137.8 486.1 147.8 487.5C157.8 488.9 165.5 494.2 175.5 494.2C184.5 494.2 191.5 492.7 200.4 492.3C209.4 492.0 216.4 492.2 225.4 492.2C235.4 492.2 243.1 491.5 253.1 490.7C263.0 489.8 270.7 487.5 280.7 487.5C289.6 487.5 296.6 486.7 305.5 486.5C314.6 486.3 321.8 486.5 330.9 486.5"/>
<path d="M329.7 486.5C341.7 486.5 351.1 486.7 363.1 488.2C375.0 489.7 384.2 494.8 396.0 494.8C406.0 494.8 413.8 494.4 423.9 494.0C433.9 493.6 441.7 492.7 451.7 492.7C463.5 492.7 472.7 491.2 484.5 491.0C496.3 490.8 505.5 491.3 517.3 491.3C529.1 491.3 538.2 494.1 550.0 494.5C561.8 494.9 570.9 493.8 582.7 493.8C592.7 493.8 600.4 491.7 610.4 490.7C620.3 489.6 628.0 488.2 638.0 488.2C649.8 488.2 659.0 488.7 670.8 488.8C682.5 488.9 691.7 488.7 703.5 488.7"/>
<path d="M120.1 490.7C130.1 490.7 137.8 490.6 147.8 492.0C157.8 493.4 165.5 498.5 175.5 498.5C184.5 498.5 191.5 495.1 200.4 494.3C209.4 493.6 216.4 494.2 225.4 494.2C235.4 494.2 243.1 493.1 253.1 492.3C263.0 491.5 270.7 489.7 280.7 489.7C289.6 489.7 296.6 491.3 305.5 491.7C314.6 492.1 321.8 492.0 330.9 492.0"/>
<path d="M329.7 492.0C341.7 492.0 351.1 491.3 363.1 492.2C375.0 493.1 384.2 497.0 396.0 497.0C406.0 497.0 413.8 496.5 423.9 496.0C433.9 495.5 441.7 494.2 451.7 494.2C463.5 494.2 472.7 493.5 484.5 493.3C496.3 493.1 505.5 493.0 517.3 493.0C529.1 493.0 538.2 495.6 550.0 496.0C561.8 496.4 570.9 495.0 582.7 495.0C592.7 495.0 600.4 494.3 610.4 493.5C620.3 492.7 628.0 490.5 638.0 490.5C649.8 490.5 659.0 490.7 670.8 490.7C682.5 490.6 691.7 490.3 703.5 490.3"/>
<path d="M120.1 493.0C130.1 493.0 137.8 495.3 147.8 496.7C157.8 498.0 165.5 500.3 175.5 500.3C184.5 500.3 191.5 497.4 200.4 496.7C209.4 495.9 216.4 496.0 225.4 496.0C235.4 496.0 243.1 495.3 253.1 494.5C263.0 493.7 270.7 491.7 280.7 491.7C289.6 491.7 296.6 495.3 305.5 496.3C314.6 497.4 321.8 497.7 330.9 497.7"/>
<path d="M329.7 497.7C341.7 497.7 351.1 496.9 363.1 497.0C375.0 497.1 384.2 498.2 396.0 498.2C406.0 498.2 413.8 498.2 423.9 497.8C433.9 497.5 441.7 496.2 451.7 496.2C463.5 496.2 472.7 494.3 484.5 494.8C496.3 495.4 505.5 499.2 517.3 499.2C529.1 499.2 538.2 498.4 550.0 498.0C561.8 497.6 570.9 497.2 582.7 497.2C592.7 497.2 600.4 496.0 610.4 495.2C620.3 494.4 628.0 492.7 638.0 492.7C649.8 492.7 659.0 492.4 670.8 492.5C682.5 492.6 691.7 493.2 703.5 493.2"/>
<path d="M120.1 497.0C130.1 497.0 137.8 498.3 147.8 499.2C157.8 500.1 165.5 502.0 175.5 502.0C184.5 502.0 191.5 499.5 200.4 498.7C209.4 497.9 216.4 497.5 225.4 497.5C235.4 497.5 243.1 497.0 253.1 496.8C263.0 496.7 270.7 496.7 280.7 496.7C289.6 496.7 296.6 497.7 305.5 498.2C314.6 498.6 321.8 499.2 330.9 499.2"/>
<path d="M329.7 499.2C341.7 499.2 351.1 498.9 363.1 499.2C375.0 499.4 384.2 500.5 396.0 500.5C406.0 500.5 413.8 500.0 423.9 499.5C433.9 499.0 441.7 497.5 451.7 497.5C463.5 497.5 472.7 496.4 484.5 497.0C496.3 497.6 505.5 501.0 517.3 501.0C529.1 501.0 538.2 499.7 550.0 499.3C561.8 499.0 570.9 499.0 582.7 499.0C592.7 499.0 600.4 497.8 610.4 497.0C620.3 496.2 628.0 494.7 638.0 494.7C649.8 494.7 659.0 494.6 670.8 494.7C682.5 494.7 691.7 494.8 703.5 494.8"/>
<path d="M120.1 499.3C130.1 499.3 137.8 500.1 147.8 500.8C157.8 501.6 165.5 503.7 175.5 503.7C184.5 503.7 191.5 503.5 200.4 503.2C209.4 502.8 216.4 501.8 225.4 501.8C235.4 501.8 243.1 499.3 253.1 498.8C263.0 498.4 270.7 499.2 280.7 499.2C289.6 499.2 296.6 499.4 305.5 499.8C314.6 500.3 321.8 501.7 330.9 501.7"/>
<path d="M329.7 501.7C341.7 501.7 351.1 500.8 363.1 501.0C375.0 501.2 384.2 502.8 396.0 502.8C406.0 502.8 413.8 502.3 423.9 501.7C433.9 501.0 441.7 499.3 451.7 499.3C463.5 499.3 472.7 497.9 484.5 498.7C496.3 499.4 505.5 503.7 517.3 503.7C529.1 503.7 538.2 501.9 550.0 501.5C561.8 501.1 570.9 501.2 582.7 501.2C592.7 501.2 600.4 499.8 610.4 499.3C620.3 498.9 628.0 498.5 638.0 498.5C649.8 498.5 659.0 497.6 670.8 497.3C682.5 497.1 691.7 497.0 703.5 497.0"/>
<path d="M120.1 500.8C130.1 500.8 137.8 501.9 147.8 502.8C157.8 503.7 165.5 505.8 175.5 505.8C184.5 505.8 191.5 505.1 200.4 504.7C209.4 504.2 216.4 503.3 225.4 503.3C235.4 503.3 243.1 501.9 253.1 501.5C263.0 501.1 270.7 501.2 280.7 501.2C289.6 501.2 296.6 501.1 305.5 501.5C314.6 501.9 321.8 503.5 330.9 503.5"/>
<path d="M329.7 503.5C341.7 503.5 351.1 502.6 363.1 502.8C375.0 503.1 384.2 504.8 396.0 504.8C406.0 504.8 413.8 504.5 423.9 504.0C433.9 503.5 441.7 501.8 451.7 501.8C463.5 501.8 472.7 500.2 484.5 500.8C496.3 501.4 505.5 505.2 517.3 505.2C529.1 505.2 538.2 503.4 550.0 503.0C561.8 502.6 570.9 503.0 582.7 503.0C592.7 503.0 600.4 502.1 610.4 501.8C620.3 501.6 628.0 501.5 638.0 501.5C649.8 501.5 659.0 500.0 670.8 499.7C682.5 499.3 691.7 499.5 703.5 499.5"/>
<path d="M120.1 502.8C130.1 502.8 137.8 504.1 147.8 505.0C157.8 505.9 165.5 507.8 175.5 507.8C184.5 507.8 191.5 507.0 200.4 506.7C209.4 506.3 216.4 505.8 225.4 505.8C235.4 505.8 243.1 503.3 253.1 502.8C263.0 502.3 270.7 503.0 280.7 503.0C289.6 503.0 296.6 503.8 305.5 504.2C314.6 504.5 321.8 505.0 330.9 505.0"/>
<path d="M329.7 505.0C341.7 505.0 351.1 504.8 363.1 505.0C375.0 505.2 384.2 506.0 396.0 506.0C406.0 506.0 413.8 505.6 423.9 505.2C433.9 504.7 441.7 503.3 451.7 503.3C463.5 503.3 472.7 501.7 484.5 502.3C496.3 503.0 505.5 507.0 517.3 507.0C529.1 507.0 538.2 505.6 550.0 505.2C561.8 504.8 570.9 504.8 582.7 504.8C592.7 504.8 600.4 503.7 610.4 503.3C620.3 503.0 628.0 503.0 638.0 503.0C649.8 503.0 659.0 501.9 670.8 501.7C682.5 501.4 691.7 501.5 703.5 501.5"/>
<path d="M120.1 505.2C130.1 505.2 137.8 506.3 147.8 507.0C157.8 507.7 165.5 509.2 175.5 509.2C184.5 509.2 191.5 509.0 200.4 508.7C209.4 508.3 216.4 507.2 225.4 507.2C235.4 507.2 243.1 505.2 253.1 504.8C263.0 504.5 270.7 505.2 280.7 505.2C289.6 505.2 296.6 505.3 305.5 505.7C314.6 506.0 321.8 507.0 330.9 507.0"/>
<path d="M329.7 507.0C341.7 507.0 351.1 507.0 363.1 507.2C375.0 507.3 384.2 508.0 396.0 508.0C406.0 508.0 413.8 508.2 423.9 507.7C433.9 507.1 441.7 504.8 451.7 504.8C463.5 504.8 472.7 503.8 484.5 504.5C496.3 505.2 505.5 508.8 517.3 508.8C529.1 508.8 538.2 507.1 550.0 506.7C561.8 506.2 570.9 506.5 582.7 506.5C592.7 506.5 600.4 506.1 610.4 506.0C620.3 505.9 628.0 505.8 638.0 505.8C649.8 505.8 659.0 504.2 670.8 503.8C682.5 503.5 691.7 504.0 703.5 504.0"/>
<path d="M120.1 507.5C130.1 507.5 137.8 508.2 147.8 508.8C157.8 509.5 165.5 511.2 175.5 511.2C184.5 511.2 191.5 511.6 200.4 511.2C209.4 510.8 216.4 509.0 225.4 509.0C235.4 509.0 243.1 507.9 253.1 507.7C263.0 507.4 270.7 507.7 280.7 507.7C289.6 507.7 296.6 507.8 305.5 508.0C314.6 508.2 321.8 509.0 330.9 509.0"/>
<path d="M329.7 509.0C341.7 509.0 351.1 509.1 363.1 509.3C375.0 509.6 384.2 510.3 396.0 510.3C406.0 510.3 413.8 510.0 423.9 509.5C433.9 509.0 441.7 507.7 451.7 507.7C463.5 507.7 472.7 505.6 484.5 506.3C496.3 507.0 505.5 511.5 517.3 511.5C529.1 511.5 538.2 508.8 550.0 508.3C561.8 507.8 570.9 508.7 582.7 508.7C592.7 508.7 600.4 508.5 610.4 508.3C620.3 508.2 628.0 508.0 638.0 508.0C649.8 508.0 659.0 506.4 670.8 506.2C682.5 505.9 691.7 506.7 703.5 506.7"/>
<path d="M120.1 510.5C130.1 510.5 137.8 511.0 147.8 511.3C157.8 511.7 165.5 512.3 175.5 512.3C184.5 512.3 191.5 513.6 200.4 513.3C209.4 513.1 216.4 511.0 225.4 511.0C235.4 511.0 243.1 509.5 253.1 509.3C263.0 509.1 270.7 509.8 280.7 509.8C289.6 509.8 296.6 510.0 305.5 510.2C314.6 510.3 321.8 510.8 330.9 510.8"/>
<path d="M329.7 510.8C341.7 510.8 351.1 510.5 363.1 510.7C375.0 510.8 384.2 511.8 396.0 511.8C406.0 511.8 413.8 511.5 423.9 511.0C433.9 510.5 441.7 509.2 451.7 509.2C463.5 509.2 472.7 508.2 484.5 509.0C496.3 509.8 505.5 513.5 517.3 513.5C529.1 513.5 538.2 511.1 550.0 510.5C561.8 509.9 570.9 510.3 582.7 510.3C592.7 510.3 600.4 510.2 610.4 510.0C620.3 509.8 628.0 509.3 638.0 509.3C649.8 509.3 659.0 508.6 670.8 508.5C682.5 508.4 691.7 509.0 703.5 509.0"/>
<path d="M120.1 512.5C130.1 512.5 137.8 512.8 147.8 513.2C157.8 513.6 165.5 514.7 175.5 514.7C184.5 514.7 191.5 514.8 200.4 514.5C209.4 514.2 216.4 512.8 225.4 512.8C235.4 512.8 243.1 511.3 253.1 511.2C263.0 511.1 270.7 512.3 280.7 512.3C289.6 512.3 296.6 511.5 305.5 511.7C314.6 511.8 321.8 513.2 330.9 513.2"/>
<path d="M329.7 513.2C341.7 513.2 351.1 513.0 363.1 513.2C375.0 513.3 384.2 514.0 396.0 514.0C406.0 514.0 413.8 513.8 423.9 513.3C433.9 512.8 441.7 511.2 451.7 511.2C463.5 511.2 472.7 509.9 484.5 510.7C496.3 511.4 505.5 515.3 517.3 515.3C529.1 515.3 538.2 512.7 550.0 512.2C561.8 511.6 570.9 512.2 582.7 512.2C592.7 512.2 600.4 512.1 610.4 512.0C620.3 511.9 628.0 511.8 638.0 511.8C649.8 511.8 659.0 511.3 670.8 511.2C682.5 511.0 691.7 511.2 703.5 511.2"/>
<path d="M120.1 514.8C130.1 514.8 137.8 514.5 147.8 514.8C157.8 515.1 165.5 516.5 175.5 516.5C184.5 516.5 191.5 516.8 200.4 516.5C209.4 516.2 216.4 514.8 225.4 514.8C235.4 514.8 243.1 513.5 253.1 513.5C263.0 513.5 270.7 514.8 280.7 514.8C289.6 514.8 296.6 513.5 305.5 513.5C314.6 513.5 321.8 514.8 330.9 514.8"/>
<path d="M329.7 514.8C341.7 514.8 351.1 514.7 363.1 514.8C375.0 515.0 384.2 515.8 396.0 515.8C406.0 515.8 413.8 516.1 423.9 515.5C433.9 514.9 441.7 512.3 451.7 512.3C463.5 512.3 472.7 511.5 484.5 512.3C496.3 513.1 505.5 516.8 517.3 516.8C529.1 516.8 538.2 514.9 550.0 514.3C561.8 513.7 570.9 513.5 582.7 513.5C592.7 513.5 600.4 514.0 610.4 514.2C620.3 514.3 628.0 514.3 638.0 514.3C649.8 514.3 659.0 512.9 670.8 512.7C682.5 512.5 691.7 513.2 703.5 513.2"/>
<path d="M120.1 517.2C130.1 517.2 137.8 516.9 147.8 517.2C157.8 517.4 165.5 518.7 175.5 518.7C184.5 518.7 191.5 518.9 200.4 518.5C209.4 518.1 216.4 516.5 225.4 516.5C235.4 516.5 243.1 515.2 253.1 515.2C263.0 515.2 270.7 516.5 280.7 516.5C289.6 516.5 296.6 515.9 305.5 516.0C314.6 516.1 321.8 517.0 330.9 517.0"/>
<path d="M329.7 517.0C341.7 517.0 351.1 516.7 363.1 517.0C375.0 517.3 384.2 518.5 396.0 518.5C406.0 518.5 413.8 518.0 423.9 517.3C433.9 516.7 441.7 515.0 451.7 515.0C463.5 515.0 472.7 513.8 484.5 514.5C496.3 515.2 505.5 518.7 517.3 518.7C529.1 518.7 538.2 516.6 550.0 516.0C561.8 515.4 570.9 515.2 582.7 515.2C592.7 515.2 600.4 516.1 610.4 516.3C620.3 516.6 628.0 516.7 638.0 516.7C649.8 516.7 659.0 515.8 670.8 515.7C682.5 515.5 691.7 515.7 703.5 515.7"/>
<path d="M120.1 518.7C130.1 518.7 137.8 518.7 147.8 519.0C157.8 519.3 165.5 520.2 175.5 520.2C184.5 520.2 191.5 520.8 200.4 520.5C209.4 520.2 216.4 518.3 225.4 518.3C235.4 518.3 243.1 517.5 253.1 517.7C263.0 517.8 270.7 519.2 280.7 519.2C289.6 519.2 296.6 517.9 305.5 517.8C314.6 517.7 321.8 518.7 330.9 518.7"/>
<path d="M329.7 518.7C341.7 518.7 351.1 519.2 363.1 519.5C375.0 519.8 384.2 520.5 396.0 520.5C406.0 520.5 413.8 519.6 423.9 518.8C433.9 518.0 441.7 516.0 451.7 516.0C463.5 516.0 472.7 516.2 484.5 517.0C496.3 517.8 505.5 520.7 517.3 520.7C529.1 520.7 538.2 518.8 550.0 518.2C561.8 517.5 570.9 517.0 582.7 517.0C592.7 517.0 600.4 518.3 610.4 518.5C620.3 518.7 628.0 518.3 638.0 518.3C649.8 518.3 659.0 518.1 670.8 518.0C682.5 517.9 691.7 518.0 703.5 518.0"/>
<path d="M120.1 520.3C130.1 520.3 137.8 521.3 147.8 521.5C157.8 521.7 165.5 521.5 175.5 521.5C184.5 521.5 191.5 523.0 200.4 522.8C209.4 522.6 216.4 520.3 225.4 520.3C235.4 520.3 243.1 520.0 253.1 520.2C263.0 520.3 270.7 521.3 280.7 521.3C289.6 521.3 296.6 519.1 305.5 519.2C314.6 519.2 321.8 521.5 330.9 521.5"/>
<path d="M329.7 521.5C341.7 521.5 351.1 521.0 363.1 521.2C375.0 521.4 384.2 522.7 396.0 522.7C406.0 522.7 413.8 522.6 423.9 521.8C433.9 521.1 441.7 518.7 451.7 518.7C463.5 518.7 472.7 517.2 484.5 518.0C496.3 518.8 505.5 522.8 517.3 522.8C529.1 522.8 538.2 520.5 550.0 519.8C561.8 519.2 570.9 519.2 582.7 519.2C592.7 519.2 600.4 520.3 610.4 520.5C620.3 520.7 628.0 520.3 638.0 520.3C649.8 520.3 659.0 519.6 670.8 519.5C682.5 519.4 691.7 519.8 703.5 519.8"/>
<path d="M120.1 522.8C130.1 522.8 137.8 523.2 147.8 523.3C157.8 523.4 165.5 523.3 175.5 523.3C184.5 523.3 191.5 524.6 200.4 525.0C209.4 525.4 216.4 525.5 225.4 525.5C235.4 525.5 243.1 525.0 253.1 524.7C263.0 524.3 270.7 523.5 280.7 523.5C289.6 523.5 296.6 521.3 305.5 521.2C314.6 521.0 321.8 522.8 330.9 522.8"/>
<path d="M329.7 522.8C341.7 522.8 351.1 523.2 363.1 523.3C375.0 523.5 384.2 523.8 396.0 523.8C406.0 523.8 413.8 526.7 423.9 526.0C433.9 525.3 441.7 520.2 451.7 520.2C463.5 520.2 472.7 519.9 484.5 520.7C496.3 521.4 505.5 524.5 517.3 524.5C529.1 524.5 538.2 522.4 550.0 521.7C561.8 521.0 570.9 520.7 582.7 520.7C592.7 520.7 600.4 522.3 610.4 522.7C620.3 523.0 628.0 522.5 638.0 522.5C649.8 522.5 659.0 522.6 670.8 522.5C682.5 522.4 691.7 522.2 703.5 522.2"/>
<path d="M120.1 523.8C130.1 523.8 137.8 524.5 147.8 524.8C157.8 525.1 165.5 525.5 175.5 525.5C184.5 525.5 191.5 526.3 200.4 526.7C209.4 527.0 216.4 527.5 225.4 527.5C235.4 527.5 243.1 527.0 253.1 526.5C263.0 526.0 270.7 525.0 280.7 525.0C289.6 525.0 296.6 523.2 305.5 523.2C314.6 523.2 321.8 525.0 330.9 525.0"/>
<path d="M329.7 525.0C341.7 525.0 351.1 525.3 363.1 525.5C375.0 525.7 384.2 526.3 396.0 526.3C406.0 526.3 413.8 528.5 423.9 528.2C433.9 527.9 441.7 524.7 451.7 524.7C463.5 524.7 472.7 522.0 484.5 522.3C496.3 522.7 505.5 526.7 517.3 526.7C529.1 526.7 538.2 524.3 550.0 523.7C561.8 523.1 570.9 523.3 582.7 523.3C592.7 523.3 600.4 523.8 610.4 524.2C620.3 524.5 628.0 525.3 638.0 525.3C649.8 525.3 659.0 524.8 670.8 524.5C682.5 524.2 691.7 523.8 703.5 523.8"/>
<path d="M120.1 526.7C130.1 526.7 137.8 527.5 147.8 527.5C157.8 527.5 165.5 526.7 175.5 526.7C184.5 526.7 191.5 527.9 200.4 528.3C209.4 528.8 216.4 529.2 225.4 529.2C235.4 529.2 243.1 528.6 253.1 528.2C263.0 527.8 270.7 527.0 280.7 527.0C289.6 527.0 296.6 525.8 305.5 525.8C314.6 525.8 321.8 527.0 330.9 527.0"/>
<path d="M329.7 527.0C341.7 527.0 351.1 527.4 363.1 527.7C375.0 527.9 384.2 528.3 396.0 528.3C406.0 528.3 413.8 529.5 423.9 529.2C433.9 528.9 441.7 526.7 451.7 526.7C463.5 526.7 472.7 526.8 484.5 527.2C496.3 527.5 505.5 528.5 517.3 528.5C529.1 528.5 538.2 525.2 550.0 525.0C561.8 524.8 570.9 527.3 582.7 527.3C592.7 527.3 600.4 526.5 610.4 526.3C620.3 526.2 628.0 526.7 638.0 526.7C649.8 526.7 659.0 527.0 670.8 527.0C682.5 527.0 691.7 526.7 703.5 526.7"/>
<path d="M120.1 528.0C130.1 528.0 137.8 528.1 147.8 528.7C157.8 529.3 165.5 531.3 175.5 531.3C184.5 531.3 191.5 530.7 200.4 530.8C209.4 530.9 216.4 531.8 225.4 531.8C235.4 531.8 243.1 530.8 253.1 530.3C263.0 529.9 270.7 529.2 280.7 529.2C289.6 529.2 296.6 527.6 305.5 527.7C314.6 527.7 321.8 529.3 330.9 529.3"/>
<path d="M329.7 529.3C341.7 529.3 351.1 529.1 363.1 529.2C375.0 529.3 384.2 529.8 396.0 529.8C406.0 529.8 413.8 531.5 423.9 531.3C433.9 531.2 441.7 529.0 451.7 529.0C463.5 529.0 472.7 529.1 484.5 529.5C496.3 529.9 505.5 531.0 517.3 531.0C529.1 531.0 538.2 530.3 550.0 530.0C561.8 529.7 570.9 529.3 582.7 529.3C592.7 529.3 600.4 528.5 610.4 528.5C620.3 528.5 628.0 529.3 638.0 529.3C649.8 529.3 659.0 528.6 670.8 528.5C682.5 528.4 691.7 528.7 703.5 528.7"/>
<path d="M120.1 529.8C130.1 529.8 137.8 530.5 147.8 531.0C157.8 531.5 165.5 532.8 175.5 532.8C184.5 532.8 191.5 532.5 200.4 532.7C209.4 532.8 216.4 533.5 225.4 533.5C235.4 533.5 243.1 532.6 253.1 532.2C263.0 531.8 270.7 531.3 280.7 531.3C289.6 531.3 296.6 529.1 305.5 529.0C314.6 528.9 321.8 530.8 330.9 530.8"/>
<path d="M329.7 530.8C341.7 530.8 351.1 531.0 363.1 531.3C375.0 531.6 384.2 532.5 396.0 532.5C406.0 532.5 413.8 533.4 423.9 533.0C433.9 532.6 441.7 530.2 451.7 530.2C463.5 530.2 472.7 530.5 484.5 531.0C496.3 531.5 505.5 533.0 517.3 533.0C529.1 533.0 538.2 532.8 550.0 532.5C561.8 532.2 570.9 531.2 582.7 531.2C592.7 531.2 600.4 531.0 610.4 531.0C620.3 531.0 628.0 531.0 638.0 531.0C649.8 531.0 659.0 530.8 670.8 530.8C682.5 530.9 691.7 531.3 703.5 531.3"/>
<path d="M120.1 531.7C130.1 531.7 137.8 532.8 147.8 533.3C157.8 533.8 165.5 534.5 175.5 534.5C184.5 534.5 191.5 534.8 200.4 534.8C209.4 534.9 216.4 534.8 225.4 534.8C235.4 534.8 243.1 535.1 253.1 534.8C263.0 534.6 270.7 533.5 280.7 533.5C289.6 533.5 296.6 534.2 305.5 534.2C314.6 534.1 321.8 533.3 330.9 533.3"/>
<path d="M329.7 533.3C341.7 533.3 351.1 533.1 363.1 533.3C375.0 533.5 384.2 534.5 396.0 534.5C406.0 534.5 413.8 536.3 423.9 535.8C433.9 535.4 441.7 531.8 451.7 531.8C463.5 531.8 472.7 532.5 484.5 533.0C496.3 533.5 505.5 534.5 517.3 534.5C529.1 534.5 538.2 533.8 550.0 533.5C561.8 533.2 570.9 533.0 582.7 533.0C592.7 533.0 600.4 532.6 610.4 532.7C620.3 532.8 628.0 533.5 638.0 533.5C649.8 533.5 659.0 533.2 670.8 533.2C682.5 533.1 691.7 533.3 703.5 533.3"/>
<path d="M120.1 533.8C130.1 533.8 137.8 534.4 147.8 534.8C157.8 535.3 165.5 536.3 175.5 536.3C184.5 536.3 191.5 537.2 200.4 537.3C209.4 537.4 216.4 536.8 225.4 536.8C235.4 536.8 243.1 536.8 253.1 536.7C263.0 536.5 270.7 536.2 280.7 536.2C289.6 536.2 296.6 536.4 305.5 536.2C314.6 535.9 321.8 534.8 330.9 534.8"/>
<path d="M329.7 534.8C341.7 534.8 351.1 535.2 363.1 535.3C375.0 535.5 384.2 535.8 396.0 535.8C406.0 535.8 413.8 537.5 423.9 537.2C433.9 536.9 441.7 534.2 451.7 534.2C463.5 534.2 472.7 534.8 484.5 535.2C496.3 535.5 505.5 536.2 517.3 536.2C529.1 536.2 538.2 536.1 550.0 535.8C561.8 535.6 570.9 534.7 582.7 534.7C592.7 534.7 600.4 534.7 610.4 535.0C620.3 535.3 628.0 536.2 638.0 536.2C649.8 536.2 659.0 536.1 670.8 536.0C682.5 535.9 691.7 535.3 703.5 535.3"/>
<path d="M120.1 536.2C130.1 536.2 137.8 536.7 147.8 537.2C157.8 537.6 165.5 538.8 175.5 538.8C184.5 538.8 191.5 539.0 200.4 539.0C209.4 539.0 216.4 538.8 225.4 538.8C235.4 538.8 243.1 539.1 253.1 539.0C263.0 538.9 270.7 538.5 280.7 538.5C289.6 538.5 296.6 538.1 305.5 537.8C314.6 537.5 321.8 536.8 330.9 536.8"/>
<path d="M329.7 536.8C341.7 536.8 351.1 537.2 363.1 537.5C375.0 537.8 384.2 538.5 396.0 538.5C406.0 538.5 413.8 538.8 423.9 539.0C433.9 539.2 441.7 539.8 451.7 539.8C463.5 539.8 472.7 540.0 484.5 539.8C496.3 539.7 505.5 538.8 517.3 538.8C529.1 538.8 538.2 538.0 550.0 537.5C561.8 537.0 570.9 536.0 582.7 536.0C592.7 536.0 600.4 536.4 610.4 536.7C620.3 536.9 628.0 537.5 638.0 537.5C649.8 537.5 659.0 537.9 670.8 537.8C682.5 537.8 691.7 537.3 703.5 537.3"/>
<path d="M120.1 537.8C130.1 537.8 137.8 538.7 147.8 539.2C157.8 539.6 165.5 540.3 175.5 540.3C184.5 540.3 191.5 540.7 200.4 540.8C209.4 540.9 216.4 540.8 225.4 540.8C235.4 540.8 243.1 540.9 253.1 540.8C263.0 540.7 270.7 540.3 280.7 540.3C289.6 540.3 296.6 539.9 305.5 539.7C314.6 539.4 321.8 538.8 330.9 538.8"/>
<path d="M329.7 538.8C341.7 538.8 351.1 539.1 363.1 539.3C375.0 539.5 384.2 540.0 396.0 540.0C406.0 540.0 413.8 541.0 423.9 541.3C433.9 541.7 441.7 542.0 451.7 542.0C463.5 542.0 472.7 541.6 484.5 541.3C496.3 541.0 505.5 540.3 517.3 540.3C529.1 540.3 538.2 539.5 550.0 539.2C561.8 538.8 570.9 538.3 582.7 538.3C592.7 538.3 600.4 538.9 610.4 539.2C620.3 539.5 628.0 540.0 638.0 540.0C649.8 540.0 659.0 540.0 670.8 540.0C682.5 540.0 691.7 540.0 703.5 540.0"/>
<path d="M120.1 560.0C128.1 554.4 134.3 551.6 142.3 547.5C148.2 544.4 152.9 541.6 158.9 540.0C164.9 538.4 169.5 538.3 175.5 538.3C193.5 538.3 207.4 539.2 225.4 539.2C245.3 539.2 260.8 538.3 280.7 538.3C286.9 538.3 291.8 536.9 298.1 539.7C309.9 544.9 319.1 551.1 330.9 560.5"/>
<path d="M329.7 560.5C338.2 552.2 344.8 544.7 353.3 542.0C368.7 537.1 380.6 539.2 396.0 539.2C416.1 539.2 431.6 540.8 451.7 540.8C475.3 540.8 493.7 539.2 517.3 539.2C540.8 539.2 559.2 538.3 582.7 538.3C602.6 538.3 618.1 538.3 638.0 538.3C648.6 538.3 656.9 536.2 667.5 539.7C680.4 544.0 690.5 550.9 703.5 560.0"/>
<path d="M120.1 560.0C129.1 554.8 136.1 551.9 145.0 548.3C152.0 545.6 157.4 543.8 164.4 542.3C168.4 541.5 171.5 542.0 175.5 542.0C193.5 542.0 207.4 542.0 225.4 542.0C245.3 542.0 260.8 541.3 280.7 541.3C284.3 541.3 287.0 541.3 290.6 542.7C305.1 548.2 316.4 552.5 330.9 560.5"/>
<path d="M329.7 560.5C344.1 552.8 355.3 547.5 369.7 543.3C379.2 540.6 386.5 541.3 396.0 541.3C416.1 541.3 431.6 543.3 451.7 543.3C475.3 543.3 493.7 541.7 517.3 541.7C540.8 541.7 559.2 539.2 582.7 539.2C602.6 539.2 618.1 540.3 638.0 540.3C643.9 540.3 648.5 540.2 654.4 542.0C672.1 547.3 685.8 551.9 703.5 560.0"/>
<path d="M120.1 560.0C130.1 554.8 137.8 551.7 147.8 548.3C154.8 546.0 160.2 545.3 167.2 544.3C170.2 543.9 172.5 544.5 175.5 544.5C193.5 544.5 207.4 544.5 225.4 544.5C245.3 544.5 260.8 543.0 280.7 543.0C282.8 543.0 284.5 543.6 286.7 544.3C302.6 549.9 315.0 553.2 330.9 560.5"/>
<path d="M329.7 560.5C344.1 553.1 355.3 547.9 369.7 544.0C379.2 541.4 386.5 542.3 396.0 542.3C416.1 542.3 431.6 545.3 451.7 545.3C475.3 545.3 493.7 543.0 517.3 543.0C540.8 543.0 559.2 540.0 582.7 540.0C602.6 540.0 618.1 541.3 638.0 541.3C642.7 541.3 646.4 541.2 651.1 542.5C670.0 547.9 684.6 552.1 703.5 560.0"/>
<path d="M516.8 174.3C540.7 174.3 559.3 179.2 583.2 179.2"/>
<path d="M516.8 174.7C540.7 174.7 559.3 179.5 583.2 179.5"/>
<path d="M516.8 188.2C540.7 188.2 559.3 189.8 583.2 189.8"/>
<path d="M516.8 188.5C540.7 188.5 559.3 190.2 583.2 190.2"/>
<path d="M516.8 200.3C540.7 200.3 559.3 199.7 583.2 199.7"/>
<path d="M516.8 200.7C540.7 200.7 559.3 200.0 583.2 200.0"/>
<path d="M516.8 203.7C540.7 203.7 559.3 203.2 583.2 203.2"/>
<path d="M516.8 204.0C540.7 204.0 559.3 203.5 583.2 203.5"/>
<path d="M516.8 207.8C540.7 207.8 559.3 209.3 583.2 209.3"/>
<path d="M516.8 208.2C540.7 208.2 559.3 209.7 583.2 209.7"/>
<path d="M516.8 218.7C540.7 218.7 559.3 218.7 583.2 218.7"/>
<path d="M516.8 219.0C540.7 219.0 559.3 219.0 583.2 219.0"/>
<path d="M516.8 224.3C540.7 224.3 559.3 219.5 583.2 219.5"/>
<path d="M516.8 225.8C540.7 225.8 559.3 222.0 583.2 222.0"/>
<path d="M516.8 228.2C540.7 228.2 559.3 226.7 583.2 226.7"/>
<path d="M516.8 228.5C540.7 228.5 559.3 227.0 583.2 227.0"/>
<path d="M516.8 233.2C540.7 233.2 559.3 233.3 583.2 233.3"/>
<path d="M516.8 233.5C540.7 233.5 559.3 233.7 583.2 233.7"/>
<path d="M516.8 238.7C540.7 238.7 559.3 237.5 583.2 237.5"/>
<path d="M516.8 239.0C540.7 239.0 559.3 237.8 583.2 237.8"/>
<path d="M516.8 245.7C540.7 245.7 559.3 244.2 583.2 244.2"/>
<path d="M516.8 246.7C540.7 246.7 559.3 245.3 583.2 245.3"/>
<path d="M516.8 270.8C540.7 270.8 559.3 265.0 583.2 265.0"/>
<path d="M516.8 271.2C540.7 271.2 559.3 265.3 583.2 265.3"/>
<path d="M516.8 271.5C540.7 271.5 559.3 270.8 583.2 270.8"/>
<path d="M516.8 271.8C540.7 271.8 559.3 271.2 583.2 271.2"/>
<path d="M582.2 179.2C602.5 177.7 618.2 176.0 638.5 176.0"/>
<path d="M582.2 179.5C602.5 180.2 618.2 181.0 638.5 181.0"/>
<path d="M582.2 189.8C602.5 187.7 618.2 185.0 638.5 185.0"/>
<path d="M582.2 190.2C602.5 188.7 618.2 186.8 638.5 186.8"/>
<path d="M582.2 199.7C602.5 198.1 618.2 196.2 638.5 196.2"/>
<path d="M582.2 200.0C602.5 200.4 618.2 200.8 638.5 200.8"/>
<path d="M582.2 203.2C602.5 202.3 618.2 201.2 638.5 201.2"/>
<path d="M582.2 203.5C602.5 204.7 618.2 206.2 638.5 206.2"/>
<path d="M582.2 209.3C602.5 209.3 618.2 210.0 638.5 210.0"/>
<path d="M582.2 209.7C602.5 211.5 618.2 213.7 638.5 213.7"/>
<path d="M582.2 218.7C602.5 216.3 618.2 213.3 638.5 213.3"/>
<path d="M582.2 219.0C602.5 219.0 618.2 219.2 638.5 219.2"/>
<path d="M582.2 219.5C602.5 219.5 618.2 218.7 638.5 218.7"/>
<path d="M582.2 222.0C602.5 222.0 618.2 224.2 638.5 224.2"/>
<path d="M582.2 226.7C602.5 226.7 618.2 224.2 638.5 224.2"/>
<path d="M582.2 227.0C602.5 227.0 618.2 226.7 638.5 226.7"/>
<path d="M582.2 233.3C602.5 233.3 618.2 233.3 638.5 233.3"/>
<path d="M582.2 233.7C602.5 233.7 618.2 233.7 638.5 233.7"/>
<path d="M582.2 237.5C602.5 237.5 618.2 240.0 638.5 240.0"/>
<path d="M582.2 237.8C602.5 240.3 618.2 243.3 638.5 243.3"/>
<path d="M582.2 244.2C602.5 244.2 618.2 243.3 638.5 243.3"/>
<path d="M582.2 245.3C602.5 245.3 618.2 246.7 638.5 246.7"/>
<path d="M582.2 265.0C602.5 262.0 618.2 258.3 638.5 258.3"/>
<path d="M582.2 265.3C602.5 265.3 618.2 265.8 638.5 265.8"/>
<path d="M582.2 270.8C602.5 270.8 618.2 268.3 638.5 268.3"/>
<path d="M582.2 271.2C602.5 271.2 618.2 268.7 638.5 268.7"/>
<path d="M637.5 176.0C661.4 176.0 680.1 176.3 704.0 176.3"/>
<path d="M637.5 181.0C661.4 181.0 680.1 178.6 704.0 176.7"/>
<path d="M637.5 185.0C661.4 185.0 680.1 184.3 704.0 184.3"/>
<path d="M637.5 186.8C661.4 186.8 680.1 187.5 704.0 187.5"/>
<path d="M637.5 196.2C661.4 196.2 680.1 194.3 704.0 194.3"/>
<path d="M637.5 200.8C661.4 200.8 680.1 200.0 704.0 200.0"/>
<path d="M637.5 201.2C661.4 201.2 680.1 200.0 704.0 200.0"/>
<path d="M637.5 206.2C661.4 206.2 680.1 203.2 704.0 203.2"/>
<path d="M637.5 210.0C661.4 210.0 680.1 208.2 704.0 208.2"/>
<path d="M637.5 213.7C661.4 213.7 680.1 211.2 704.0 211.2"/>
<path d="M637.5 213.3C661.4 213.3 680.1 211.7 704.0 211.7"/>
<path d="M637.5 219.2C661.4 219.2 680.1 215.9 704.0 213.2"/>
<path d="M637.5 218.7C661.4 218.7 680.1 223.3 704.0 223.3"/>
<path d="M637.5 224.2C661.4 224.2 680.1 222.5 704.0 222.5"/>
<path d="M637.5 224.2C661.4 224.2 680.1 225.8 704.0 225.8"/>
<path d="M637.5 226.7C661.4 226.7 680.1 228.3 704.0 228.3"/>
<path d="M637.5 233.3C661.4 233.3 680.1 230.0 704.0 230.0"/>
<path d="M637.5 233.7C661.4 233.7 680.1 233.7 704.0 233.7"/>
<path d="M637.5 240.0C661.4 240.0 680.1 238.7 704.0 238.7"/>
<path d="M637.5 243.3C661.4 243.3 680.1 240.0 704.0 240.0"/>
<path d="M637.5 243.3C661.4 243.3 680.1 246.2 704.0 246.2"/>
<path d="M637.5 246.7C661.4 246.7 680.1 247.5 704.0 247.5"/>
<path d="M637.5 258.3C661.4 258.3 680.1 260.0 704.0 260.0"/>
<path d="M637.5 265.8C661.4 265.8 680.1 269.2 704.0 269.2"/>
<path d="M637.5 268.3C661.4 268.3 680.1 270.0 704.0 270.0"/>
<path d="M637.5 268.7C661.4 268.7 680.1 274.7 704.0 274.7"/>
</g>
<line x1="120.1" x2="703.5" y1="560" y2="560" stroke="#0000ff" stroke-width="1.1" stroke-dasharray="1.05 1.68"/>
<g id="dos" clip-path="url(#c2)" fill="none">
<g stroke="#1f77b4" stroke-width="2.7" stroke-linejoin="round">
<polyline points="721.7,376.3 725.0,378.3 721.7,380.3"/>
<polyline points="721.7,386.7 725.0,388.7 721.7,390.7"/>
<polyline points="721.7,410.8 726.7,412.8 721.7,414.8"/>
<polyline points="721.7,426.0 735.0,428.3 721.7,430.7"/>
<polyline points="721.7,433.0 727.5,435.0 721.7,437.0"/>
<polyline points="721.7,445.3 730.0,446.7 721.7,448.0"/>
<polyline points="721.7,452.8 779.2,454.2 721.7,455.5"/>
<polyline points="721.7,458.7 736.7,460.0 721.7,461.3"/>
<polyline points="721.7,465.0 741.7,466.3 721.7,467.7"/>
<polyline points="724.4,474.8 724.8,476.4 735.4,477.9 725.3,479.2 737.2,480.6 726.0,481.9 734.4,483.4 725.8,485.0 729.1,486.9 727.0,488.5 744.1,490.4 728.5,491.8 737.7,493.3 727.6,494.7 743.4,496.1 732.4,497.5 748.3,498.9 736.0,500.3 751.4,501.8 731.7,503.2 754.5,504.7 734.4,506.2 751.2,507.4 733.6,508.6 753.5,509.8 733.8,511.0 751.6,512.2 732.6,513.3 750.7,514.5 734.2,515.7 753.5,516.9 732.9,518.1 755.8,519.2 734.5,520.4 757.2,521.6 731.7,522.8 756.4,524.0 735.2,525.2 754.8,526.3 732.6,527.5 750.6,529.1 733.7,530.6 751.4,532.0 731.1,533.4 748.9,534.6 732.5,535.8 741.9,537.0 728.1,538.1 734.4,540.0 729.2,541.7 733.6,543.3 724.2,544.9 725.3,546.4 722.5,548.0"/>
</g>
<g stroke="#ff7f0e" stroke-width="2.7" stroke-linejoin="round">
<polyline points="721.7,232.7 779.2,234.2 721.7,235.7"/>
<polyline points="721.7,236.8 765.8,238.3 721.7,239.8"/>
<polyline points="721.7,244.7 753.3,245.8 721.7,247.0"/>
<polyline points="721.7,395.3 750.8,396.3 721.7,397.3"/>
<polyline points="721.7,411.3 805.8,412.8 721.7,414.3"/>
<polyline points="721.7,425.7 769.2,426.7 721.7,427.7"/>
<polyline points="722.3,521.6 722.8,538.1"/>
</g>
<g stroke="#2ca02c" stroke-width="2.7" stroke-linejoin="round">
<polyline points="728.3,241.5 765.0,242.5 728.3,243.5"/>
<polyline points="721.7,245.2 800.0,246.5 721.7,247.8"/>
<polyline points="721.7,259.2 726.7,263.3 735.0,265.8 744.2,267.5 729.2,269.5 768.3,271.3 721.7,274.7"/>
<polyline points="721.7,387.0 761.7,388.7 721.7,390.3"/>
</g>
<g stroke="#d62728" stroke-width="2.7" stroke-linejoin="round">
<polyline points="721.7,173.0 740.0,176.7 730.8,180.8 737.5,185.8 723.3,190.8"/>
<polyline points="721.7,195.2 740.8,196.7 721.7,198.2"/>
<polyline points="721.7,198.5 745.8,200.0 721.7,201.5"/>
<polyline points="725.0,378.7 736.7,379.2 725.0,379.7"/>
<polyline points="721.7,398.3 724.2,400.0 721.7,401.7"/>
<polyline points="724.3,473.9 725.8,475.1 737.3,476.2 732.9,477.4 750.1,478.6 736.1,480.5 752.9,481.8 740.6,483.1 740.8,485.2"/>
<polyline points="729.0,527.5 727.6,528.7 732.6,529.9 728.8,531.1 734.1,532.2 727.3,533.4 733.9,534.6 724.9,535.8 728.7,537.0"/>
</g>
<g stroke="#9467bd" stroke-width="2.7" stroke-linejoin="round">
<polyline points="721.7,221.8 747.5,223.3 721.7,224.8"/>
<polyline points="721.7,216.8 740.0,218.3 721.7,219.8"/>
<polyline points="721.7,236.8 735.0,238.3 721.7,239.8"/>
<polyline points="721.7,376.7 766.7,378.3 721.7,380.0"/>
<polyline points="721.7,437.2 759.2,438.0 721.7,438.8"/>
</g>
<g stroke="#8c564b" stroke-width="2.7" stroke-linejoin="round">
<polyline points="721.7,198.5 730.0,200.0 721.7,201.5"/>
<polyline points="721.7,208.5 728.3,210.0 721.7,211.5"/>
<polyline points="721.7,245.0 731.7,246.3 721.7,247.7"/>
<polyline points="721.7,335.0 733.3,336.7 721.7,338.3"/>
<polyline points="721.7,435.0 731.7,435.8 721.7,436.7"/>
<polyline points="721.7,446.8 754.2,448.3 721.7,449.8"/>
<polyline points="721.7,452.7 765.0,454.2 721.7,455.7"/>
<polyline points="721.7,463.7 736.7,465.0 721.7,466.3"/>
<polyline points="721.7,459.0 731.7,460.0 721.7,461.0"/>
</g>
<g stroke="#e377c2" stroke-width="2.7" stroke-linejoin="round">
<polyline points="721.7,175.0 723.7,178.3 722.5,185.0 721.7,188.3"/>
<polyline points="721.7,201.5 757.5,203.0 721.7,204.5"/>
<polyline points="721.7,222.7 740.0,224.2 721.7,225.7"/>
<polyline points="721.7,208.5 726.7,210.0 721.7,211.5"/>
<polyline points="721.7,213.5 725.0,215.0 721.7,216.5"/>
<polyline points="721.7,245.0 736.7,246.3 721.7,247.7"/>
<polyline points="721.7,266.7 723.7,271.3 721.7,274.2"/>
<polyline points="721.7,335.0 727.5,336.7 721.7,338.3"/>
<polyline points="721.7,395.7 736.7,398.0 721.7,400.3"/>
<polyline points="721.7,427.3 851.7,429.2 721.7,431.0"/>
<polyline points="721.7,433.7 780.8,435.3 721.7,437.0"/>
<polyline points="721.7,446.5 738.3,448.0 721.7,449.5"/>
<polyline points="724.4,490.9 723.2,492.1 727.8,493.3 724.8,494.4 731.1,495.6 725.4,496.8 736.3,498.0 729.3,499.2 739.1,500.3 728.3,501.5 739.7,502.7 729.4,503.9 737.7,505.1 729.1,506.2 735.3,507.4 727.5,508.6 732.3,509.8 728.2,511.0 733.2,512.2 728.1,513.3 734.1,514.5 726.2,515.7 735.5,516.9 727.1,518.1 734.4,519.2 725.7,520.4 731.7,521.6 725.5,522.8 728.8,524.0 725.1,525.2 727.2,526.3 724.2,527.5 725.5,528.7 723.4,529.9 724.9,531.1 722.9,532.2"/>
</g>
<g stroke="#7f7f7f" stroke-width="2.7" stroke-linejoin="round">
<polyline points="722.1,490.4 744.1,491.8 768.8,492.9 737.0,494.0 765.5,495.1"/>
<polyline points="755.1,508.4 754.3,509.8 765.4,511.2 751.6,512.6 770.1,513.9 758.4,515.2 761.3,517.4"/>
<polyline points="744.3,519.2 735.4,520.5 744.9,521.8 737.5,523.1 744.5,524.3"/>
<polyline points="752.4,531.1 753.7,532.9 768.5,534.1 748.5,535.3 781.6,537.4 745.4,538.9"/>
</g>
<g stroke="#bcbd22" stroke-width="2.7" stroke-linejoin="round">
<polyline points="721.7,174.2 727.5,176.7 723.3,181.7 726.7,185.0 721.7,190.0"/>
<polyline points="721.7,202.2 750.8,203.7 721.7,205.2"/>
<polyline points="721.7,226.2 758.3,227.5 721.7,228.8"/>
<polyline points="721.7,216.0 733.3,217.5 721.7,219.0"/>
<polyline points="721.7,335.0 768.3,336.7 721.7,338.3"/>
<polyline points="721.7,339.5 744.2,340.3 721.7,341.2"/>
<polyline points="721.7,368.3 727.5,369.3 721.7,370.3"/>
<polyline points="721.7,388.5 733.3,389.2 721.7,389.8"/>
<polyline points="721.7,396.0 752.5,398.0 721.7,400.0"/>
<polyline points="721.7,401.7 765.0,403.0 721.7,404.3"/>
<polyline points="721.7,447.5 724.2,449.2 721.7,450.8"/>
<polyline points="726.8,514.5 724.5,515.7 727.9,516.9 724.6,518.1 729.1,519.2 725.0,520.4 729.8,521.6 725.7,522.8 730.3,524.0 724.8,525.2 730.8,526.3 724.9,527.5 731.4,528.7 724.3,529.9 730.2,531.1 725.0,532.2 728.7,533.4 724.0,534.6 727.0,535.8 722.6,537.0 725.5,538.1 722.6,539.3 724.3,540.5 722.5,541.7"/>
</g>
<g stroke="#17becf" stroke-width="2.7" stroke-linejoin="round">
<polyline points="720.5,165.0 720.5,172.7 734.7,176.2 727.0,180.0 732.0,185.0 725.0,189.2 721.7,191.3"/>
<polyline points="721.7,194.7 731.7,196.0 724.2,198.0 733.3,200.0 725.0,201.7 740.0,203.7 725.0,205.8 732.5,208.3 724.2,210.3 730.8,212.5 723.3,215.0 738.3,217.7 725.0,220.3 746.7,224.2 730.0,225.5 741.7,226.8 721.7,229.3"/>
<polyline points="721.7,232.0 750.8,234.2 725.0,236.2 745.0,238.3 723.3,240.5 730.0,242.5 722.5,244.3 726.7,246.3 721.7,248.3"/>
<polyline points="721.7,259.7 725.0,266.7 722.7,269.2 726.7,271.3 721.7,274.3"/>
<polyline points="721.7,334.3 762.5,336.7 725.0,338.7 740.0,340.2 721.7,341.2"/>
<polyline points="721.7,367.2 741.7,368.3 723.3,370.0 740.8,372.2 722.5,374.2 725.0,375.8 753.3,378.3 721.7,381.3"/>
<polyline points="721.7,386.7 750.8,388.7 721.7,390.7"/>
<polyline points="721.7,394.3 731.7,395.8 734.2,398.3 725.0,400.8 754.2,403.0 721.7,405.0"/>
<polyline points="721.7,411.0 775.0,412.8 721.7,414.7"/>
<polyline points="721.7,425.8 728.3,427.5 721.7,429.2"/>
<polyline points="721.7,445.0 725.0,448.3 723.3,453.3 725.3,460.0 723.3,465.0 721.7,469.3"/>
<polyline points="727.5,487.3 723.4,488.5 728.8,489.7 722.6,490.9 728.9,492.1 723.1,493.3 727.0,494.4 723.0,495.6 726.5,496.8 722.9,498.0 726.1,499.2 722.9,500.3 725.5,501.5 722.5,502.7 725.6,503.9 722.8,505.1 726.1,506.2 722.7,507.4 726.3,508.6 722.4,509.8 726.1,511.0 722.8,512.2 725.4,513.3 722.4,514.5 725.3,515.7 722.7,516.9 725.0,518.1 722.4,519.2 725.1,520.4 722.2,521.6 724.8,522.8 722.3,524.0 724.6,525.2 722.5,526.3 724.7,527.5 722.5,528.7 724.5,529.9 722.7,531.1 724.3,532.2 722.4,533.4 724.2,534.6 722.5,535.8 723.9,537.0 722.6,538.1 723.9,539.3 722.2,540.5 723.5,541.7 722.2,542.9 723.3,544.1 722.1,545.2 723.0,546.4 722.2,547.6 722.7,548.8"/>
</g>
<g stroke="#000" stroke-width="1.1" stroke-dasharray="1.05 1.68" stroke-linejoin="round">
<polyline points="720.0,172.5 752.5,175.5 771.7,176.7 750.8,179.7 736.7,183.3 756.7,185.0 766.7,186.0 753.3,187.5 720.0,191.3 720.0,195.0 748.3,196.7 757.5,198.0 760.0,199.7 811.7,200.5 760.0,201.7 815.8,203.7 770.0,204.7 731.7,207.5 756.7,209.3 773.3,209.3 756.7,210.7 755.0,213.3 740.0,214.3 731.7,216.0 791.7,218.0 765.0,218.8 753.3,221.3 763.3,220.3 839.2,223.3 778.3,225.3 823.3,227.0 761.7,228.2 720.0,229.7 720.0,232.5 865.0,234.0 865.0,234.5 720.0,236.0 720.0,236.8 865.0,238.0 865.0,238.7 731.7,240.5 765.0,242.8 808.3,243.8 731.7,244.7 865.0,245.8 865.0,246.8 720.0,248.5 720.0,259.2 731.7,263.3 743.3,265.8 761.7,266.7 780.0,266.7 781.7,269.2 790.0,270.8 831.7,271.7 768.3,273.3 720.0,275.0 720.0,334.0 865.0,335.8 865.0,337.2 798.3,338.3 781.7,340.0 720.0,341.2 720.0,367.2 831.7,368.8 741.7,371.7 845.8,373.7 756.7,376.0 865.0,378.0 865.0,379.7 720.0,382.0 720.0,386.2 865.0,388.0 865.0,389.3 720.0,391.7 720.0,394.0 865.0,395.8 823.3,397.3 865.0,399.7 793.3,401.3 775.0,402.8 865.0,403.8 720.0,405.5 720.0,410.5 865.0,412.2 865.0,413.3 720.0,415.7 720.0,425.5 865.0,427.0 865.0,428.7 765.0,431.0 720.0,432.8 865.0,434.5 865.0,436.2 788.3,436.8 720.0,439.2 720.0,445.0 865.0,447.2 865.0,448.7 818.3,449.7 726.7,452.5 865.0,453.8 865.0,454.5 831.7,455.5 803.3,456.2 805.0,460.0 793.3,461.0 736.7,463.3 819.2,466.5 765.0,467.7 720.0,469.7 720.0,474.2 795.0,476.3 847.5,480.0 773.3,481.8 865.0,484.0 815.0,485.3 720.0,486.7 865.0,488.7 741.7,490.0 865.0,491.3 735.0,492.8 835.0,493.5 748.3,494.5 836.7,495.8 798.3,497.0 865.0,498.3 834.4,492.5 868.0,493.5 847.4,494.5 868.0,495.5 831.8,496.5 868.0,497.5 860.9,498.5 868.0,499.5 860.2,500.5 868.0,501.5 847.9,502.5 868.0,503.5 856.3,504.5 868.0,505.5 866.8,506.5 868.0,507.5 855.1,508.5 868.0,509.5 843.9,510.5 868.0,511.5 826.2,512.5 868.0,513.5 816.6,514.5 868.0,515.5 784.7,516.5 868.0,517.5 800.3,518.5 868.0,519.5 814.9,520.5 868.0,521.5 813.1,522.5 868.0,523.5 827.6,524.5 868.0,525.5 819.5,526.5 868.0,527.5 807.9,528.5 868.0,529.5 818.8,530.5 868.0,531.5 823.0,532.5 868.0,533.5 824.8,534.5 868.0,535.5 821.9,536.5 868.0,537.5 798.1,538.5 784.5,539.3 763.5,540.7 786.1,543.0 755.4,544.4 732.8,546.8 724.7,549.3 719.8,552.5"/>
</g>
</g>
<g stroke="#000" stroke-width="1.75" fill="none" stroke-linecap="square">
<rect x="120.1" y="147.6" width="583.4" height="431.9"/>
<rect x="720.1" y="147.6" width="144.1" height="431.9"/>
</g>
<g font-family="'DejaVu Sans', 'Liberation Sans', sans-serif" font-size="20.83" fill="#000">
<text x="112.5" y="567.9" text-anchor="end">0</text>
<text x="112.5" y="514.8" text-anchor="end">5</text>
<text x="112.5" y="461.7" text-anchor="end">10</text>
<text x="112.5" y="408.6" text-anchor="end">15</text>
<text x="112.5" y="355.5" text-anchor="end">20</text>
<text x="112.5" y="302.4" text-anchor="end">25</text>
<text x="112.5" y="249.3" text-anchor="end">30</text>
<text x="112.5" y="196.2" text-anchor="end">35</text>
<text x="120.1" y="601.3" text-anchor="middle">Γ</text>
<text x="175.5" y="601.3" text-anchor="middle">Z</text>
<text x="225.4" y="601.3" text-anchor="middle">D</text>
<text x="280.7" y="601.3" text-anchor="middle">B</text>
<text x="330.3" y="601.3" text-anchor="middle">Γ</text>
<text x="396" y="601.3" text-anchor="middle">A</text>
<text x="451.7" y="601.3" text-anchor="middle">E</text>
<text x="517.3" y="601.3" text-anchor="middle">Z</text>
<text x="582.7" y="601.3" text-anchor="middle">C<tspan font-size="14.58" dy="4.6">2</tspan></text>
<text x="638" y="601.3" text-anchor="middle">Y<tspan font-size="14.58" dy="4.6">2</tspan></text>
<text x="703.5" y="601.3" text-anchor="middle">Γ</text>
<text x="720.1" y="601.3" text-anchor="middle">0</text>
<text x="848.8" y="601.3" text-anchor="middle">10</text>
<text transform="translate(73.4,363.4) rotate(-90)" text-anchor="middle">Frequency (THz)</text>
</g>
</svg>
</body></html>
